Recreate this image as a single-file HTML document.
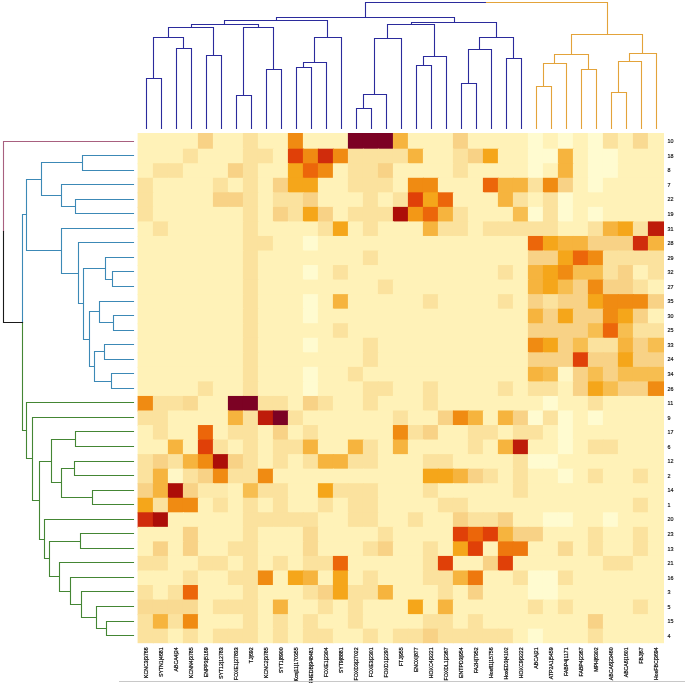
<!DOCTYPE html><html><head><meta charset="utf-8"><style>html,body{margin:0;padding:0;background:#fff;width:685px;height:683px;overflow:hidden}svg{display:block;will-change:transform}text{font-family:"Liberation Sans",sans-serif}</style></head><body>
<svg width="685" height="683" viewBox="0 0 685 683">
<g>
<rect x="137.60" y="133.00" width="16.30" height="16.70" fill="#fff2b8"/>
<rect x="152.90" y="133.00" width="16.00" height="16.70" fill="#fff2b8"/>
<rect x="167.90" y="133.00" width="16.00" height="16.70" fill="#fff2b8"/>
<rect x="182.90" y="133.00" width="16.00" height="16.70" fill="#fff2b8"/>
<rect x="197.90" y="133.00" width="16.00" height="16.70" fill="#f8d286"/>
<rect x="212.90" y="133.00" width="16.00" height="16.70" fill="#fff2b8"/>
<rect x="227.90" y="133.00" width="16.00" height="16.70" fill="#fff2b8"/>
<rect x="242.90" y="133.00" width="16.00" height="16.70" fill="#fbe29e"/>
<rect x="257.90" y="133.00" width="16.00" height="16.70" fill="#fff2b8"/>
<rect x="272.90" y="133.00" width="16.00" height="16.70" fill="#fff2b8"/>
<rect x="287.90" y="133.00" width="16.00" height="16.70" fill="#f08b12"/>
<rect x="302.90" y="133.00" width="16.00" height="16.70" fill="#fff2b8"/>
<rect x="317.90" y="133.00" width="16.00" height="16.70" fill="#fff2b8"/>
<rect x="332.90" y="133.00" width="16.00" height="16.70" fill="#fff2b8"/>
<rect x="347.90" y="133.00" width="16.00" height="16.70" fill="#7c0224"/>
<rect x="362.90" y="133.00" width="16.00" height="16.70" fill="#7c0224"/>
<rect x="377.90" y="133.00" width="16.00" height="16.70" fill="#7c0224"/>
<rect x="392.90" y="133.00" width="16.00" height="16.70" fill="#f6b43e"/>
<rect x="407.90" y="133.00" width="16.00" height="16.70" fill="#fff2b8"/>
<rect x="422.90" y="133.00" width="16.00" height="16.70" fill="#fff2b8"/>
<rect x="437.90" y="133.00" width="16.00" height="16.70" fill="#fff2b8"/>
<rect x="452.90" y="133.00" width="16.00" height="16.70" fill="#f8d286"/>
<rect x="467.90" y="133.00" width="16.00" height="16.70" fill="#fff2b8"/>
<rect x="482.90" y="133.00" width="16.00" height="16.70" fill="#fff2b8"/>
<rect x="497.90" y="133.00" width="16.00" height="16.70" fill="#fff2b8"/>
<rect x="512.90" y="133.00" width="16.00" height="16.70" fill="#fff2b8"/>
<rect x="527.90" y="133.00" width="16.00" height="16.70" fill="#fffbd0"/>
<rect x="542.90" y="133.00" width="16.00" height="16.70" fill="#fff2b8"/>
<rect x="557.90" y="133.00" width="16.00" height="16.70" fill="#fffbd0"/>
<rect x="572.90" y="133.00" width="16.00" height="16.70" fill="#fff2b8"/>
<rect x="587.90" y="133.00" width="16.00" height="16.70" fill="#fffbd0"/>
<rect x="602.90" y="133.00" width="16.00" height="16.70" fill="#fbe29e"/>
<rect x="617.90" y="133.00" width="16.00" height="16.70" fill="#fff2b8"/>
<rect x="632.90" y="133.00" width="16.00" height="16.70" fill="#f9da92"/>
<rect x="647.90" y="133.00" width="16.10" height="16.70" fill="#fff2b8"/>
<rect x="137.60" y="148.70" width="16.30" height="15.54" fill="#fff2b8"/>
<rect x="152.90" y="148.70" width="16.00" height="15.54" fill="#fff2b8"/>
<rect x="167.90" y="148.70" width="16.00" height="15.54" fill="#fff2b8"/>
<rect x="182.90" y="148.70" width="16.00" height="15.54" fill="#fbe29e"/>
<rect x="197.90" y="148.70" width="16.00" height="15.54" fill="#fff2b8"/>
<rect x="212.90" y="148.70" width="16.00" height="15.54" fill="#fff2b8"/>
<rect x="227.90" y="148.70" width="16.00" height="15.54" fill="#fff2b8"/>
<rect x="242.90" y="148.70" width="16.00" height="15.54" fill="#fbe29e"/>
<rect x="257.90" y="148.70" width="16.00" height="15.54" fill="#fbe29e"/>
<rect x="272.90" y="148.70" width="16.00" height="15.54" fill="#fff2b8"/>
<rect x="287.90" y="148.70" width="16.00" height="15.54" fill="#e04008"/>
<rect x="302.90" y="148.70" width="16.00" height="15.54" fill="#f08b12"/>
<rect x="317.90" y="148.70" width="16.00" height="15.54" fill="#d02c0c"/>
<rect x="332.90" y="148.70" width="16.00" height="15.54" fill="#f08b12"/>
<rect x="347.90" y="148.70" width="16.00" height="15.54" fill="#fbe29e"/>
<rect x="362.90" y="148.70" width="16.00" height="15.54" fill="#fbe29e"/>
<rect x="377.90" y="148.70" width="16.00" height="15.54" fill="#fbe29e"/>
<rect x="392.90" y="148.70" width="16.00" height="15.54" fill="#fbe29e"/>
<rect x="407.90" y="148.70" width="16.00" height="15.54" fill="#f6b43e"/>
<rect x="422.90" y="148.70" width="16.00" height="15.54" fill="#fff2b8"/>
<rect x="437.90" y="148.70" width="16.00" height="15.54" fill="#fff2b8"/>
<rect x="452.90" y="148.70" width="16.00" height="15.54" fill="#fbe29e"/>
<rect x="467.90" y="148.70" width="16.00" height="15.54" fill="#f8d286"/>
<rect x="482.90" y="148.70" width="16.00" height="15.54" fill="#f5a61a"/>
<rect x="497.90" y="148.70" width="16.00" height="15.54" fill="#fff2b8"/>
<rect x="512.90" y="148.70" width="16.00" height="15.54" fill="#fff2b8"/>
<rect x="527.90" y="148.70" width="16.00" height="15.54" fill="#fffbd0"/>
<rect x="542.90" y="148.70" width="16.00" height="15.54" fill="#fffbd0"/>
<rect x="557.90" y="148.70" width="16.00" height="15.54" fill="#f6b43e"/>
<rect x="572.90" y="148.70" width="16.00" height="15.54" fill="#fff2b8"/>
<rect x="587.90" y="148.70" width="16.00" height="15.54" fill="#fffbd0"/>
<rect x="602.90" y="148.70" width="16.00" height="15.54" fill="#fffbd0"/>
<rect x="617.90" y="148.70" width="16.00" height="15.54" fill="#fff2b8"/>
<rect x="632.90" y="148.70" width="16.00" height="15.54" fill="#fff2b8"/>
<rect x="647.90" y="148.70" width="16.10" height="15.54" fill="#fff2b8"/>
<rect x="137.60" y="163.24" width="16.30" height="15.54" fill="#fff2b8"/>
<rect x="152.90" y="163.24" width="16.00" height="15.54" fill="#fbe29e"/>
<rect x="167.90" y="163.24" width="16.00" height="15.54" fill="#fbe29e"/>
<rect x="182.90" y="163.24" width="16.00" height="15.54" fill="#fff2b8"/>
<rect x="197.90" y="163.24" width="16.00" height="15.54" fill="#fff2b8"/>
<rect x="212.90" y="163.24" width="16.00" height="15.54" fill="#fff2b8"/>
<rect x="227.90" y="163.24" width="16.00" height="15.54" fill="#f8d286"/>
<rect x="242.90" y="163.24" width="16.00" height="15.54" fill="#fbe29e"/>
<rect x="257.90" y="163.24" width="16.00" height="15.54" fill="#fff2b8"/>
<rect x="272.90" y="163.24" width="16.00" height="15.54" fill="#fff2b8"/>
<rect x="287.90" y="163.24" width="16.00" height="15.54" fill="#f5a61a"/>
<rect x="302.90" y="163.24" width="16.00" height="15.54" fill="#ec660a"/>
<rect x="317.90" y="163.24" width="16.00" height="15.54" fill="#f08b12"/>
<rect x="332.90" y="163.24" width="16.00" height="15.54" fill="#fff2b8"/>
<rect x="347.90" y="163.24" width="16.00" height="15.54" fill="#fbe29e"/>
<rect x="362.90" y="163.24" width="16.00" height="15.54" fill="#fbe29e"/>
<rect x="377.90" y="163.24" width="16.00" height="15.54" fill="#f8d286"/>
<rect x="392.90" y="163.24" width="16.00" height="15.54" fill="#fff2b8"/>
<rect x="407.90" y="163.24" width="16.00" height="15.54" fill="#fff2b8"/>
<rect x="422.90" y="163.24" width="16.00" height="15.54" fill="#fff2b8"/>
<rect x="437.90" y="163.24" width="16.00" height="15.54" fill="#fff2b8"/>
<rect x="452.90" y="163.24" width="16.00" height="15.54" fill="#fbe29e"/>
<rect x="467.90" y="163.24" width="16.00" height="15.54" fill="#fff2b8"/>
<rect x="482.90" y="163.24" width="16.00" height="15.54" fill="#fff2b8"/>
<rect x="497.90" y="163.24" width="16.00" height="15.54" fill="#fff2b8"/>
<rect x="512.90" y="163.24" width="16.00" height="15.54" fill="#fff2b8"/>
<rect x="527.90" y="163.24" width="16.00" height="15.54" fill="#fffbd0"/>
<rect x="542.90" y="163.24" width="16.00" height="15.54" fill="#fff2b8"/>
<rect x="557.90" y="163.24" width="16.00" height="15.54" fill="#f6b43e"/>
<rect x="572.90" y="163.24" width="16.00" height="15.54" fill="#fff2b8"/>
<rect x="587.90" y="163.24" width="16.00" height="15.54" fill="#fffbd0"/>
<rect x="602.90" y="163.24" width="16.00" height="15.54" fill="#fffbd0"/>
<rect x="617.90" y="163.24" width="16.00" height="15.54" fill="#fff2b8"/>
<rect x="632.90" y="163.24" width="16.00" height="15.54" fill="#fff2b8"/>
<rect x="647.90" y="163.24" width="16.10" height="15.54" fill="#fff2b8"/>
<rect x="137.60" y="177.79" width="16.30" height="15.54" fill="#fbe29e"/>
<rect x="152.90" y="177.79" width="16.00" height="15.54" fill="#fff2b8"/>
<rect x="167.90" y="177.79" width="16.00" height="15.54" fill="#fff2b8"/>
<rect x="182.90" y="177.79" width="16.00" height="15.54" fill="#fff2b8"/>
<rect x="197.90" y="177.79" width="16.00" height="15.54" fill="#fff2b8"/>
<rect x="212.90" y="177.79" width="16.00" height="15.54" fill="#fbe29e"/>
<rect x="227.90" y="177.79" width="16.00" height="15.54" fill="#fff2b8"/>
<rect x="242.90" y="177.79" width="16.00" height="15.54" fill="#fbe29e"/>
<rect x="257.90" y="177.79" width="16.00" height="15.54" fill="#fff2b8"/>
<rect x="272.90" y="177.79" width="16.00" height="15.54" fill="#f8d286"/>
<rect x="287.90" y="177.79" width="16.00" height="15.54" fill="#f5a61a"/>
<rect x="302.90" y="177.79" width="16.00" height="15.54" fill="#f5a61a"/>
<rect x="317.90" y="177.79" width="16.00" height="15.54" fill="#fff2b8"/>
<rect x="332.90" y="177.79" width="16.00" height="15.54" fill="#fff2b8"/>
<rect x="347.90" y="177.79" width="16.00" height="15.54" fill="#fbe29e"/>
<rect x="362.90" y="177.79" width="16.00" height="15.54" fill="#fbe29e"/>
<rect x="377.90" y="177.79" width="16.00" height="15.54" fill="#fbe29e"/>
<rect x="392.90" y="177.79" width="16.00" height="15.54" fill="#fff2b8"/>
<rect x="407.90" y="177.79" width="16.00" height="15.54" fill="#f08b12"/>
<rect x="422.90" y="177.79" width="16.00" height="15.54" fill="#f08b12"/>
<rect x="437.90" y="177.79" width="16.00" height="15.54" fill="#fff2b8"/>
<rect x="452.90" y="177.79" width="16.00" height="15.54" fill="#fff2b8"/>
<rect x="467.90" y="177.79" width="16.00" height="15.54" fill="#fff2b8"/>
<rect x="482.90" y="177.79" width="16.00" height="15.54" fill="#ec660a"/>
<rect x="497.90" y="177.79" width="16.00" height="15.54" fill="#f6b43e"/>
<rect x="512.90" y="177.79" width="16.00" height="15.54" fill="#f6b43e"/>
<rect x="527.90" y="177.79" width="16.00" height="15.54" fill="#fbe29e"/>
<rect x="542.90" y="177.79" width="16.00" height="15.54" fill="#f08b12"/>
<rect x="557.90" y="177.79" width="16.00" height="15.54" fill="#f8d286"/>
<rect x="572.90" y="177.79" width="16.00" height="15.54" fill="#fff2b8"/>
<rect x="587.90" y="177.79" width="16.00" height="15.54" fill="#fffbd0"/>
<rect x="602.90" y="177.79" width="16.00" height="15.54" fill="#fff2b8"/>
<rect x="617.90" y="177.79" width="16.00" height="15.54" fill="#fff2b8"/>
<rect x="632.90" y="177.79" width="16.00" height="15.54" fill="#fff2b8"/>
<rect x="647.90" y="177.79" width="16.10" height="15.54" fill="#fff2b8"/>
<rect x="137.60" y="192.33" width="16.30" height="15.54" fill="#fbe29e"/>
<rect x="152.90" y="192.33" width="16.00" height="15.54" fill="#fff2b8"/>
<rect x="167.90" y="192.33" width="16.00" height="15.54" fill="#fff2b8"/>
<rect x="182.90" y="192.33" width="16.00" height="15.54" fill="#fff2b8"/>
<rect x="197.90" y="192.33" width="16.00" height="15.54" fill="#fff2b8"/>
<rect x="212.90" y="192.33" width="16.00" height="15.54" fill="#f8d286"/>
<rect x="227.90" y="192.33" width="16.00" height="15.54" fill="#f8d286"/>
<rect x="242.90" y="192.33" width="16.00" height="15.54" fill="#fbe29e"/>
<rect x="257.90" y="192.33" width="16.00" height="15.54" fill="#fff2b8"/>
<rect x="272.90" y="192.33" width="16.00" height="15.54" fill="#fbe29e"/>
<rect x="287.90" y="192.33" width="16.00" height="15.54" fill="#fbe29e"/>
<rect x="302.90" y="192.33" width="16.00" height="15.54" fill="#f8d286"/>
<rect x="317.90" y="192.33" width="16.00" height="15.54" fill="#fff2b8"/>
<rect x="332.90" y="192.33" width="16.00" height="15.54" fill="#fff2b8"/>
<rect x="347.90" y="192.33" width="16.00" height="15.54" fill="#fff2b8"/>
<rect x="362.90" y="192.33" width="16.00" height="15.54" fill="#fbe29e"/>
<rect x="377.90" y="192.33" width="16.00" height="15.54" fill="#fff2b8"/>
<rect x="392.90" y="192.33" width="16.00" height="15.54" fill="#fbe29e"/>
<rect x="407.90" y="192.33" width="16.00" height="15.54" fill="#e04008"/>
<rect x="422.90" y="192.33" width="16.00" height="15.54" fill="#f5a61a"/>
<rect x="437.90" y="192.33" width="16.00" height="15.54" fill="#ec660a"/>
<rect x="452.90" y="192.33" width="16.00" height="15.54" fill="#fff2b8"/>
<rect x="467.90" y="192.33" width="16.00" height="15.54" fill="#fff2b8"/>
<rect x="482.90" y="192.33" width="16.00" height="15.54" fill="#fff2b8"/>
<rect x="497.90" y="192.33" width="16.00" height="15.54" fill="#f6b43e"/>
<rect x="512.90" y="192.33" width="16.00" height="15.54" fill="#fbe29e"/>
<rect x="527.90" y="192.33" width="16.00" height="15.54" fill="#fff2b8"/>
<rect x="542.90" y="192.33" width="16.00" height="15.54" fill="#fbe29e"/>
<rect x="557.90" y="192.33" width="16.00" height="15.54" fill="#fffbd0"/>
<rect x="572.90" y="192.33" width="16.00" height="15.54" fill="#fff2b8"/>
<rect x="587.90" y="192.33" width="16.00" height="15.54" fill="#fff2b8"/>
<rect x="602.90" y="192.33" width="16.00" height="15.54" fill="#fff2b8"/>
<rect x="617.90" y="192.33" width="16.00" height="15.54" fill="#fff2b8"/>
<rect x="632.90" y="192.33" width="16.00" height="15.54" fill="#fff2b8"/>
<rect x="647.90" y="192.33" width="16.10" height="15.54" fill="#fff2b8"/>
<rect x="137.60" y="206.88" width="16.30" height="15.54" fill="#fbe29e"/>
<rect x="152.90" y="206.88" width="16.00" height="15.54" fill="#fff2b8"/>
<rect x="167.90" y="206.88" width="16.00" height="15.54" fill="#fff2b8"/>
<rect x="182.90" y="206.88" width="16.00" height="15.54" fill="#fff2b8"/>
<rect x="197.90" y="206.88" width="16.00" height="15.54" fill="#fff2b8"/>
<rect x="212.90" y="206.88" width="16.00" height="15.54" fill="#fff2b8"/>
<rect x="227.90" y="206.88" width="16.00" height="15.54" fill="#fff2b8"/>
<rect x="242.90" y="206.88" width="16.00" height="15.54" fill="#fbe29e"/>
<rect x="257.90" y="206.88" width="16.00" height="15.54" fill="#fff2b8"/>
<rect x="272.90" y="206.88" width="16.00" height="15.54" fill="#f8d286"/>
<rect x="287.90" y="206.88" width="16.00" height="15.54" fill="#fbe29e"/>
<rect x="302.90" y="206.88" width="16.00" height="15.54" fill="#f5a61a"/>
<rect x="317.90" y="206.88" width="16.00" height="15.54" fill="#f8d286"/>
<rect x="332.90" y="206.88" width="16.00" height="15.54" fill="#fff2b8"/>
<rect x="347.90" y="206.88" width="16.00" height="15.54" fill="#fbe29e"/>
<rect x="362.90" y="206.88" width="16.00" height="15.54" fill="#fbe29e"/>
<rect x="377.90" y="206.88" width="16.00" height="15.54" fill="#fbe29e"/>
<rect x="392.90" y="206.88" width="16.00" height="15.54" fill="#ac0e08"/>
<rect x="407.90" y="206.88" width="16.00" height="15.54" fill="#f39816"/>
<rect x="422.90" y="206.88" width="16.00" height="15.54" fill="#ec660a"/>
<rect x="437.90" y="206.88" width="16.00" height="15.54" fill="#f6b43e"/>
<rect x="452.90" y="206.88" width="16.00" height="15.54" fill="#fbe29e"/>
<rect x="467.90" y="206.88" width="16.00" height="15.54" fill="#fff2b8"/>
<rect x="482.90" y="206.88" width="16.00" height="15.54" fill="#fff2b8"/>
<rect x="497.90" y="206.88" width="16.00" height="15.54" fill="#fff2b8"/>
<rect x="512.90" y="206.88" width="16.00" height="15.54" fill="#f7be50"/>
<rect x="527.90" y="206.88" width="16.00" height="15.54" fill="#fffbd0"/>
<rect x="542.90" y="206.88" width="16.00" height="15.54" fill="#fbe29e"/>
<rect x="557.90" y="206.88" width="16.00" height="15.54" fill="#fffbd0"/>
<rect x="572.90" y="206.88" width="16.00" height="15.54" fill="#fff2b8"/>
<rect x="587.90" y="206.88" width="16.00" height="15.54" fill="#fffbd0"/>
<rect x="602.90" y="206.88" width="16.00" height="15.54" fill="#fff2b8"/>
<rect x="617.90" y="206.88" width="16.00" height="15.54" fill="#fff2b8"/>
<rect x="632.90" y="206.88" width="16.00" height="15.54" fill="#fff2b8"/>
<rect x="647.90" y="206.88" width="16.10" height="15.54" fill="#fff2b8"/>
<rect x="137.60" y="221.42" width="16.30" height="15.54" fill="#fff2b8"/>
<rect x="152.90" y="221.42" width="16.00" height="15.54" fill="#fbe29e"/>
<rect x="167.90" y="221.42" width="16.00" height="15.54" fill="#fff2b8"/>
<rect x="182.90" y="221.42" width="16.00" height="15.54" fill="#fff2b8"/>
<rect x="197.90" y="221.42" width="16.00" height="15.54" fill="#fff2b8"/>
<rect x="212.90" y="221.42" width="16.00" height="15.54" fill="#fff2b8"/>
<rect x="227.90" y="221.42" width="16.00" height="15.54" fill="#fff2b8"/>
<rect x="242.90" y="221.42" width="16.00" height="15.54" fill="#fbe29e"/>
<rect x="257.90" y="221.42" width="16.00" height="15.54" fill="#fff2b8"/>
<rect x="272.90" y="221.42" width="16.00" height="15.54" fill="#fff2b8"/>
<rect x="287.90" y="221.42" width="16.00" height="15.54" fill="#fff2b8"/>
<rect x="302.90" y="221.42" width="16.00" height="15.54" fill="#fff2b8"/>
<rect x="317.90" y="221.42" width="16.00" height="15.54" fill="#fbe29e"/>
<rect x="332.90" y="221.42" width="16.00" height="15.54" fill="#f5a61a"/>
<rect x="347.90" y="221.42" width="16.00" height="15.54" fill="#fff2b8"/>
<rect x="362.90" y="221.42" width="16.00" height="15.54" fill="#fbe29e"/>
<rect x="377.90" y="221.42" width="16.00" height="15.54" fill="#fff2b8"/>
<rect x="392.90" y="221.42" width="16.00" height="15.54" fill="#fff2b8"/>
<rect x="407.90" y="221.42" width="16.00" height="15.54" fill="#fff2b8"/>
<rect x="422.90" y="221.42" width="16.00" height="15.54" fill="#f6b43e"/>
<rect x="437.90" y="221.42" width="16.00" height="15.54" fill="#fbe29e"/>
<rect x="452.90" y="221.42" width="16.00" height="15.54" fill="#fbe29e"/>
<rect x="467.90" y="221.42" width="16.00" height="15.54" fill="#fff2b8"/>
<rect x="482.90" y="221.42" width="16.00" height="15.54" fill="#fbe29e"/>
<rect x="497.90" y="221.42" width="16.00" height="15.54" fill="#fbe29e"/>
<rect x="512.90" y="221.42" width="16.00" height="15.54" fill="#fbe29e"/>
<rect x="527.90" y="221.42" width="16.00" height="15.54" fill="#fbe29e"/>
<rect x="542.90" y="221.42" width="16.00" height="15.54" fill="#fbe29e"/>
<rect x="557.90" y="221.42" width="16.00" height="15.54" fill="#fff2b8"/>
<rect x="572.90" y="221.42" width="16.00" height="15.54" fill="#fff2b8"/>
<rect x="587.90" y="221.42" width="16.00" height="15.54" fill="#fbe29e"/>
<rect x="602.90" y="221.42" width="16.00" height="15.54" fill="#f6b43e"/>
<rect x="617.90" y="221.42" width="16.00" height="15.54" fill="#f5a61a"/>
<rect x="632.90" y="221.42" width="16.00" height="15.54" fill="#fbe29e"/>
<rect x="647.90" y="221.42" width="16.10" height="15.54" fill="#be1c0a"/>
<rect x="137.60" y="235.96" width="16.30" height="15.54" fill="#fff2b8"/>
<rect x="152.90" y="235.96" width="16.00" height="15.54" fill="#fff2b8"/>
<rect x="167.90" y="235.96" width="16.00" height="15.54" fill="#fff2b8"/>
<rect x="182.90" y="235.96" width="16.00" height="15.54" fill="#fff2b8"/>
<rect x="197.90" y="235.96" width="16.00" height="15.54" fill="#fff2b8"/>
<rect x="212.90" y="235.96" width="16.00" height="15.54" fill="#fff2b8"/>
<rect x="227.90" y="235.96" width="16.00" height="15.54" fill="#fff2b8"/>
<rect x="242.90" y="235.96" width="16.00" height="15.54" fill="#fbe29e"/>
<rect x="257.90" y="235.96" width="16.00" height="15.54" fill="#fbe29e"/>
<rect x="272.90" y="235.96" width="16.00" height="15.54" fill="#fff2b8"/>
<rect x="287.90" y="235.96" width="16.00" height="15.54" fill="#fff2b8"/>
<rect x="302.90" y="235.96" width="16.00" height="15.54" fill="#fffbd0"/>
<rect x="317.90" y="235.96" width="16.00" height="15.54" fill="#fff2b8"/>
<rect x="332.90" y="235.96" width="16.00" height="15.54" fill="#fff2b8"/>
<rect x="347.90" y="235.96" width="16.00" height="15.54" fill="#fff2b8"/>
<rect x="362.90" y="235.96" width="16.00" height="15.54" fill="#fff2b8"/>
<rect x="377.90" y="235.96" width="16.00" height="15.54" fill="#fff2b8"/>
<rect x="392.90" y="235.96" width="16.00" height="15.54" fill="#fff2b8"/>
<rect x="407.90" y="235.96" width="16.00" height="15.54" fill="#fff2b8"/>
<rect x="422.90" y="235.96" width="16.00" height="15.54" fill="#fff2b8"/>
<rect x="437.90" y="235.96" width="16.00" height="15.54" fill="#fff2b8"/>
<rect x="452.90" y="235.96" width="16.00" height="15.54" fill="#fff2b8"/>
<rect x="467.90" y="235.96" width="16.00" height="15.54" fill="#fff2b8"/>
<rect x="482.90" y="235.96" width="16.00" height="15.54" fill="#fff2b8"/>
<rect x="497.90" y="235.96" width="16.00" height="15.54" fill="#fff2b8"/>
<rect x="512.90" y="235.96" width="16.00" height="15.54" fill="#fff2b8"/>
<rect x="527.90" y="235.96" width="16.00" height="15.54" fill="#ec660a"/>
<rect x="542.90" y="235.96" width="16.00" height="15.54" fill="#f5a61a"/>
<rect x="557.90" y="235.96" width="16.00" height="15.54" fill="#f6b43e"/>
<rect x="572.90" y="235.96" width="16.00" height="15.54" fill="#f6b43e"/>
<rect x="587.90" y="235.96" width="16.00" height="15.54" fill="#f8d286"/>
<rect x="602.90" y="235.96" width="16.00" height="15.54" fill="#f8d286"/>
<rect x="617.90" y="235.96" width="16.00" height="15.54" fill="#f8d286"/>
<rect x="632.90" y="235.96" width="16.00" height="15.54" fill="#d02c0c"/>
<rect x="647.90" y="235.96" width="16.10" height="15.54" fill="#f6b43e"/>
<rect x="137.60" y="250.51" width="16.30" height="15.54" fill="#fff2b8"/>
<rect x="152.90" y="250.51" width="16.00" height="15.54" fill="#fff2b8"/>
<rect x="167.90" y="250.51" width="16.00" height="15.54" fill="#fff2b8"/>
<rect x="182.90" y="250.51" width="16.00" height="15.54" fill="#fff2b8"/>
<rect x="197.90" y="250.51" width="16.00" height="15.54" fill="#fff2b8"/>
<rect x="212.90" y="250.51" width="16.00" height="15.54" fill="#fff2b8"/>
<rect x="227.90" y="250.51" width="16.00" height="15.54" fill="#fff2b8"/>
<rect x="242.90" y="250.51" width="16.00" height="15.54" fill="#fbe29e"/>
<rect x="257.90" y="250.51" width="16.00" height="15.54" fill="#fff2b8"/>
<rect x="272.90" y="250.51" width="16.00" height="15.54" fill="#fff2b8"/>
<rect x="287.90" y="250.51" width="16.00" height="15.54" fill="#fff2b8"/>
<rect x="302.90" y="250.51" width="16.00" height="15.54" fill="#fff2b8"/>
<rect x="317.90" y="250.51" width="16.00" height="15.54" fill="#fff2b8"/>
<rect x="332.90" y="250.51" width="16.00" height="15.54" fill="#fff2b8"/>
<rect x="347.90" y="250.51" width="16.00" height="15.54" fill="#fff2b8"/>
<rect x="362.90" y="250.51" width="16.00" height="15.54" fill="#fbe29e"/>
<rect x="377.90" y="250.51" width="16.00" height="15.54" fill="#fff2b8"/>
<rect x="392.90" y="250.51" width="16.00" height="15.54" fill="#fff2b8"/>
<rect x="407.90" y="250.51" width="16.00" height="15.54" fill="#fff2b8"/>
<rect x="422.90" y="250.51" width="16.00" height="15.54" fill="#fff2b8"/>
<rect x="437.90" y="250.51" width="16.00" height="15.54" fill="#fff2b8"/>
<rect x="452.90" y="250.51" width="16.00" height="15.54" fill="#fff2b8"/>
<rect x="467.90" y="250.51" width="16.00" height="15.54" fill="#fff2b8"/>
<rect x="482.90" y="250.51" width="16.00" height="15.54" fill="#fff2b8"/>
<rect x="497.90" y="250.51" width="16.00" height="15.54" fill="#fff2b8"/>
<rect x="512.90" y="250.51" width="16.00" height="15.54" fill="#fff2b8"/>
<rect x="527.90" y="250.51" width="16.00" height="15.54" fill="#f8d286"/>
<rect x="542.90" y="250.51" width="16.00" height="15.54" fill="#f8d286"/>
<rect x="557.90" y="250.51" width="16.00" height="15.54" fill="#f5a61a"/>
<rect x="572.90" y="250.51" width="16.00" height="15.54" fill="#ec660a"/>
<rect x="587.90" y="250.51" width="16.00" height="15.54" fill="#f08b12"/>
<rect x="602.90" y="250.51" width="16.00" height="15.54" fill="#fbe29e"/>
<rect x="617.90" y="250.51" width="16.00" height="15.54" fill="#fbe29e"/>
<rect x="632.90" y="250.51" width="16.00" height="15.54" fill="#fbe29e"/>
<rect x="647.90" y="250.51" width="16.10" height="15.54" fill="#fbe29e"/>
<rect x="137.60" y="265.05" width="16.30" height="15.54" fill="#fff2b8"/>
<rect x="152.90" y="265.05" width="16.00" height="15.54" fill="#fff2b8"/>
<rect x="167.90" y="265.05" width="16.00" height="15.54" fill="#fff2b8"/>
<rect x="182.90" y="265.05" width="16.00" height="15.54" fill="#fff2b8"/>
<rect x="197.90" y="265.05" width="16.00" height="15.54" fill="#fff2b8"/>
<rect x="212.90" y="265.05" width="16.00" height="15.54" fill="#fff2b8"/>
<rect x="227.90" y="265.05" width="16.00" height="15.54" fill="#fff2b8"/>
<rect x="242.90" y="265.05" width="16.00" height="15.54" fill="#fbe29e"/>
<rect x="257.90" y="265.05" width="16.00" height="15.54" fill="#fff2b8"/>
<rect x="272.90" y="265.05" width="16.00" height="15.54" fill="#fff2b8"/>
<rect x="287.90" y="265.05" width="16.00" height="15.54" fill="#fff2b8"/>
<rect x="302.90" y="265.05" width="16.00" height="15.54" fill="#fffbd0"/>
<rect x="317.90" y="265.05" width="16.00" height="15.54" fill="#fff2b8"/>
<rect x="332.90" y="265.05" width="16.00" height="15.54" fill="#fbe29e"/>
<rect x="347.90" y="265.05" width="16.00" height="15.54" fill="#fff2b8"/>
<rect x="362.90" y="265.05" width="16.00" height="15.54" fill="#fff2b8"/>
<rect x="377.90" y="265.05" width="16.00" height="15.54" fill="#fff2b8"/>
<rect x="392.90" y="265.05" width="16.00" height="15.54" fill="#fff2b8"/>
<rect x="407.90" y="265.05" width="16.00" height="15.54" fill="#fff2b8"/>
<rect x="422.90" y="265.05" width="16.00" height="15.54" fill="#fff2b8"/>
<rect x="437.90" y="265.05" width="16.00" height="15.54" fill="#fff2b8"/>
<rect x="452.90" y="265.05" width="16.00" height="15.54" fill="#fff2b8"/>
<rect x="467.90" y="265.05" width="16.00" height="15.54" fill="#fff2b8"/>
<rect x="482.90" y="265.05" width="16.00" height="15.54" fill="#fff2b8"/>
<rect x="497.90" y="265.05" width="16.00" height="15.54" fill="#fbe29e"/>
<rect x="512.90" y="265.05" width="16.00" height="15.54" fill="#fff2b8"/>
<rect x="527.90" y="265.05" width="16.00" height="15.54" fill="#f6b43e"/>
<rect x="542.90" y="265.05" width="16.00" height="15.54" fill="#f5a61a"/>
<rect x="557.90" y="265.05" width="16.00" height="15.54" fill="#f08b12"/>
<rect x="572.90" y="265.05" width="16.00" height="15.54" fill="#f7be50"/>
<rect x="587.90" y="265.05" width="16.00" height="15.54" fill="#f7be50"/>
<rect x="602.90" y="265.05" width="16.00" height="15.54" fill="#fbe29e"/>
<rect x="617.90" y="265.05" width="16.00" height="15.54" fill="#f8d286"/>
<rect x="632.90" y="265.05" width="16.00" height="15.54" fill="#fff2b8"/>
<rect x="647.90" y="265.05" width="16.10" height="15.54" fill="#fbe29e"/>
<rect x="137.60" y="279.60" width="16.30" height="15.54" fill="#fff2b8"/>
<rect x="152.90" y="279.60" width="16.00" height="15.54" fill="#fff2b8"/>
<rect x="167.90" y="279.60" width="16.00" height="15.54" fill="#fff2b8"/>
<rect x="182.90" y="279.60" width="16.00" height="15.54" fill="#fff2b8"/>
<rect x="197.90" y="279.60" width="16.00" height="15.54" fill="#fff2b8"/>
<rect x="212.90" y="279.60" width="16.00" height="15.54" fill="#fff2b8"/>
<rect x="227.90" y="279.60" width="16.00" height="15.54" fill="#fff2b8"/>
<rect x="242.90" y="279.60" width="16.00" height="15.54" fill="#fbe29e"/>
<rect x="257.90" y="279.60" width="16.00" height="15.54" fill="#fff2b8"/>
<rect x="272.90" y="279.60" width="16.00" height="15.54" fill="#fff2b8"/>
<rect x="287.90" y="279.60" width="16.00" height="15.54" fill="#fff2b8"/>
<rect x="302.90" y="279.60" width="16.00" height="15.54" fill="#fff2b8"/>
<rect x="317.90" y="279.60" width="16.00" height="15.54" fill="#fff2b8"/>
<rect x="332.90" y="279.60" width="16.00" height="15.54" fill="#fff2b8"/>
<rect x="347.90" y="279.60" width="16.00" height="15.54" fill="#fff2b8"/>
<rect x="362.90" y="279.60" width="16.00" height="15.54" fill="#fff2b8"/>
<rect x="377.90" y="279.60" width="16.00" height="15.54" fill="#fbe29e"/>
<rect x="392.90" y="279.60" width="16.00" height="15.54" fill="#fff2b8"/>
<rect x="407.90" y="279.60" width="16.00" height="15.54" fill="#fff2b8"/>
<rect x="422.90" y="279.60" width="16.00" height="15.54" fill="#fff2b8"/>
<rect x="437.90" y="279.60" width="16.00" height="15.54" fill="#fff2b8"/>
<rect x="452.90" y="279.60" width="16.00" height="15.54" fill="#fff2b8"/>
<rect x="467.90" y="279.60" width="16.00" height="15.54" fill="#fff2b8"/>
<rect x="482.90" y="279.60" width="16.00" height="15.54" fill="#fff2b8"/>
<rect x="497.90" y="279.60" width="16.00" height="15.54" fill="#fff2b8"/>
<rect x="512.90" y="279.60" width="16.00" height="15.54" fill="#fff2b8"/>
<rect x="527.90" y="279.60" width="16.00" height="15.54" fill="#f6b43e"/>
<rect x="542.90" y="279.60" width="16.00" height="15.54" fill="#f5a61a"/>
<rect x="557.90" y="279.60" width="16.00" height="15.54" fill="#f7be50"/>
<rect x="572.90" y="279.60" width="16.00" height="15.54" fill="#f8d286"/>
<rect x="587.90" y="279.60" width="16.00" height="15.54" fill="#f08b12"/>
<rect x="602.90" y="279.60" width="16.00" height="15.54" fill="#f8d286"/>
<rect x="617.90" y="279.60" width="16.00" height="15.54" fill="#f8d286"/>
<rect x="632.90" y="279.60" width="16.00" height="15.54" fill="#fbe29e"/>
<rect x="647.90" y="279.60" width="16.10" height="15.54" fill="#fff2b8"/>
<rect x="137.60" y="294.14" width="16.30" height="15.54" fill="#fff2b8"/>
<rect x="152.90" y="294.14" width="16.00" height="15.54" fill="#fff2b8"/>
<rect x="167.90" y="294.14" width="16.00" height="15.54" fill="#fff2b8"/>
<rect x="182.90" y="294.14" width="16.00" height="15.54" fill="#fff2b8"/>
<rect x="197.90" y="294.14" width="16.00" height="15.54" fill="#fff2b8"/>
<rect x="212.90" y="294.14" width="16.00" height="15.54" fill="#fff2b8"/>
<rect x="227.90" y="294.14" width="16.00" height="15.54" fill="#fff2b8"/>
<rect x="242.90" y="294.14" width="16.00" height="15.54" fill="#fbe29e"/>
<rect x="257.90" y="294.14" width="16.00" height="15.54" fill="#fff2b8"/>
<rect x="272.90" y="294.14" width="16.00" height="15.54" fill="#fff2b8"/>
<rect x="287.90" y="294.14" width="16.00" height="15.54" fill="#fff2b8"/>
<rect x="302.90" y="294.14" width="16.00" height="15.54" fill="#fffbd0"/>
<rect x="317.90" y="294.14" width="16.00" height="15.54" fill="#fff2b8"/>
<rect x="332.90" y="294.14" width="16.00" height="15.54" fill="#f6b43e"/>
<rect x="347.90" y="294.14" width="16.00" height="15.54" fill="#fff2b8"/>
<rect x="362.90" y="294.14" width="16.00" height="15.54" fill="#fff2b8"/>
<rect x="377.90" y="294.14" width="16.00" height="15.54" fill="#fff2b8"/>
<rect x="392.90" y="294.14" width="16.00" height="15.54" fill="#fff2b8"/>
<rect x="407.90" y="294.14" width="16.00" height="15.54" fill="#fff2b8"/>
<rect x="422.90" y="294.14" width="16.00" height="15.54" fill="#fbe29e"/>
<rect x="437.90" y="294.14" width="16.00" height="15.54" fill="#fff2b8"/>
<rect x="452.90" y="294.14" width="16.00" height="15.54" fill="#fff2b8"/>
<rect x="467.90" y="294.14" width="16.00" height="15.54" fill="#fff2b8"/>
<rect x="482.90" y="294.14" width="16.00" height="15.54" fill="#fff2b8"/>
<rect x="497.90" y="294.14" width="16.00" height="15.54" fill="#fbe29e"/>
<rect x="512.90" y="294.14" width="16.00" height="15.54" fill="#fff2b8"/>
<rect x="527.90" y="294.14" width="16.00" height="15.54" fill="#f8d286"/>
<rect x="542.90" y="294.14" width="16.00" height="15.54" fill="#fbe29e"/>
<rect x="557.90" y="294.14" width="16.00" height="15.54" fill="#f8d286"/>
<rect x="572.90" y="294.14" width="16.00" height="15.54" fill="#f8d286"/>
<rect x="587.90" y="294.14" width="16.00" height="15.54" fill="#f5a61a"/>
<rect x="602.90" y="294.14" width="16.00" height="15.54" fill="#f08b12"/>
<rect x="617.90" y="294.14" width="16.00" height="15.54" fill="#f08b12"/>
<rect x="632.90" y="294.14" width="16.00" height="15.54" fill="#f08b12"/>
<rect x="647.90" y="294.14" width="16.10" height="15.54" fill="#f8d286"/>
<rect x="137.60" y="308.68" width="16.30" height="15.54" fill="#fff2b8"/>
<rect x="152.90" y="308.68" width="16.00" height="15.54" fill="#fff2b8"/>
<rect x="167.90" y="308.68" width="16.00" height="15.54" fill="#fff2b8"/>
<rect x="182.90" y="308.68" width="16.00" height="15.54" fill="#fff2b8"/>
<rect x="197.90" y="308.68" width="16.00" height="15.54" fill="#fff2b8"/>
<rect x="212.90" y="308.68" width="16.00" height="15.54" fill="#fff2b8"/>
<rect x="227.90" y="308.68" width="16.00" height="15.54" fill="#fff2b8"/>
<rect x="242.90" y="308.68" width="16.00" height="15.54" fill="#fbe29e"/>
<rect x="257.90" y="308.68" width="16.00" height="15.54" fill="#fff2b8"/>
<rect x="272.90" y="308.68" width="16.00" height="15.54" fill="#fff2b8"/>
<rect x="287.90" y="308.68" width="16.00" height="15.54" fill="#fff2b8"/>
<rect x="302.90" y="308.68" width="16.00" height="15.54" fill="#fffbd0"/>
<rect x="317.90" y="308.68" width="16.00" height="15.54" fill="#fff2b8"/>
<rect x="332.90" y="308.68" width="16.00" height="15.54" fill="#fff2b8"/>
<rect x="347.90" y="308.68" width="16.00" height="15.54" fill="#fff2b8"/>
<rect x="362.90" y="308.68" width="16.00" height="15.54" fill="#fff2b8"/>
<rect x="377.90" y="308.68" width="16.00" height="15.54" fill="#fff2b8"/>
<rect x="392.90" y="308.68" width="16.00" height="15.54" fill="#fff2b8"/>
<rect x="407.90" y="308.68" width="16.00" height="15.54" fill="#fff2b8"/>
<rect x="422.90" y="308.68" width="16.00" height="15.54" fill="#fff2b8"/>
<rect x="437.90" y="308.68" width="16.00" height="15.54" fill="#fff2b8"/>
<rect x="452.90" y="308.68" width="16.00" height="15.54" fill="#fff2b8"/>
<rect x="467.90" y="308.68" width="16.00" height="15.54" fill="#fff2b8"/>
<rect x="482.90" y="308.68" width="16.00" height="15.54" fill="#fff2b8"/>
<rect x="497.90" y="308.68" width="16.00" height="15.54" fill="#fff2b8"/>
<rect x="512.90" y="308.68" width="16.00" height="15.54" fill="#fff2b8"/>
<rect x="527.90" y="308.68" width="16.00" height="15.54" fill="#f6b43e"/>
<rect x="542.90" y="308.68" width="16.00" height="15.54" fill="#f8d286"/>
<rect x="557.90" y="308.68" width="16.00" height="15.54" fill="#f5a61a"/>
<rect x="572.90" y="308.68" width="16.00" height="15.54" fill="#f8d286"/>
<rect x="587.90" y="308.68" width="16.00" height="15.54" fill="#f8d286"/>
<rect x="602.90" y="308.68" width="16.00" height="15.54" fill="#f08b12"/>
<rect x="617.90" y="308.68" width="16.00" height="15.54" fill="#f5a61a"/>
<rect x="632.90" y="308.68" width="16.00" height="15.54" fill="#f8d286"/>
<rect x="647.90" y="308.68" width="16.10" height="15.54" fill="#fff2b8"/>
<rect x="137.60" y="323.23" width="16.30" height="15.54" fill="#fff2b8"/>
<rect x="152.90" y="323.23" width="16.00" height="15.54" fill="#fff2b8"/>
<rect x="167.90" y="323.23" width="16.00" height="15.54" fill="#fff2b8"/>
<rect x="182.90" y="323.23" width="16.00" height="15.54" fill="#fff2b8"/>
<rect x="197.90" y="323.23" width="16.00" height="15.54" fill="#fff2b8"/>
<rect x="212.90" y="323.23" width="16.00" height="15.54" fill="#fff2b8"/>
<rect x="227.90" y="323.23" width="16.00" height="15.54" fill="#fff2b8"/>
<rect x="242.90" y="323.23" width="16.00" height="15.54" fill="#fbe29e"/>
<rect x="257.90" y="323.23" width="16.00" height="15.54" fill="#fff2b8"/>
<rect x="272.90" y="323.23" width="16.00" height="15.54" fill="#fff2b8"/>
<rect x="287.90" y="323.23" width="16.00" height="15.54" fill="#fff2b8"/>
<rect x="302.90" y="323.23" width="16.00" height="15.54" fill="#fff2b8"/>
<rect x="317.90" y="323.23" width="16.00" height="15.54" fill="#fff2b8"/>
<rect x="332.90" y="323.23" width="16.00" height="15.54" fill="#fbe29e"/>
<rect x="347.90" y="323.23" width="16.00" height="15.54" fill="#fff2b8"/>
<rect x="362.90" y="323.23" width="16.00" height="15.54" fill="#fff2b8"/>
<rect x="377.90" y="323.23" width="16.00" height="15.54" fill="#fff2b8"/>
<rect x="392.90" y="323.23" width="16.00" height="15.54" fill="#fff2b8"/>
<rect x="407.90" y="323.23" width="16.00" height="15.54" fill="#fff2b8"/>
<rect x="422.90" y="323.23" width="16.00" height="15.54" fill="#fff2b8"/>
<rect x="437.90" y="323.23" width="16.00" height="15.54" fill="#fff2b8"/>
<rect x="452.90" y="323.23" width="16.00" height="15.54" fill="#fff2b8"/>
<rect x="467.90" y="323.23" width="16.00" height="15.54" fill="#fff2b8"/>
<rect x="482.90" y="323.23" width="16.00" height="15.54" fill="#fff2b8"/>
<rect x="497.90" y="323.23" width="16.00" height="15.54" fill="#fff2b8"/>
<rect x="512.90" y="323.23" width="16.00" height="15.54" fill="#fff2b8"/>
<rect x="527.90" y="323.23" width="16.00" height="15.54" fill="#f8d286"/>
<rect x="542.90" y="323.23" width="16.00" height="15.54" fill="#f8d286"/>
<rect x="557.90" y="323.23" width="16.00" height="15.54" fill="#f8d286"/>
<rect x="572.90" y="323.23" width="16.00" height="15.54" fill="#f8d286"/>
<rect x="587.90" y="323.23" width="16.00" height="15.54" fill="#f7be50"/>
<rect x="602.90" y="323.23" width="16.00" height="15.54" fill="#ec660a"/>
<rect x="617.90" y="323.23" width="16.00" height="15.54" fill="#f7be50"/>
<rect x="632.90" y="323.23" width="16.00" height="15.54" fill="#fbe29e"/>
<rect x="647.90" y="323.23" width="16.10" height="15.54" fill="#fbe29e"/>
<rect x="137.60" y="337.77" width="16.30" height="15.54" fill="#fff2b8"/>
<rect x="152.90" y="337.77" width="16.00" height="15.54" fill="#fff2b8"/>
<rect x="167.90" y="337.77" width="16.00" height="15.54" fill="#fff2b8"/>
<rect x="182.90" y="337.77" width="16.00" height="15.54" fill="#fff2b8"/>
<rect x="197.90" y="337.77" width="16.00" height="15.54" fill="#fff2b8"/>
<rect x="212.90" y="337.77" width="16.00" height="15.54" fill="#fff2b8"/>
<rect x="227.90" y="337.77" width="16.00" height="15.54" fill="#fff2b8"/>
<rect x="242.90" y="337.77" width="16.00" height="15.54" fill="#fbe29e"/>
<rect x="257.90" y="337.77" width="16.00" height="15.54" fill="#fff2b8"/>
<rect x="272.90" y="337.77" width="16.00" height="15.54" fill="#fff2b8"/>
<rect x="287.90" y="337.77" width="16.00" height="15.54" fill="#fff2b8"/>
<rect x="302.90" y="337.77" width="16.00" height="15.54" fill="#fffbd0"/>
<rect x="317.90" y="337.77" width="16.00" height="15.54" fill="#fff2b8"/>
<rect x="332.90" y="337.77" width="16.00" height="15.54" fill="#fff2b8"/>
<rect x="347.90" y="337.77" width="16.00" height="15.54" fill="#fff2b8"/>
<rect x="362.90" y="337.77" width="16.00" height="15.54" fill="#fbe29e"/>
<rect x="377.90" y="337.77" width="16.00" height="15.54" fill="#fff2b8"/>
<rect x="392.90" y="337.77" width="16.00" height="15.54" fill="#fff2b8"/>
<rect x="407.90" y="337.77" width="16.00" height="15.54" fill="#fff2b8"/>
<rect x="422.90" y="337.77" width="16.00" height="15.54" fill="#fff2b8"/>
<rect x="437.90" y="337.77" width="16.00" height="15.54" fill="#fff2b8"/>
<rect x="452.90" y="337.77" width="16.00" height="15.54" fill="#fff2b8"/>
<rect x="467.90" y="337.77" width="16.00" height="15.54" fill="#fff2b8"/>
<rect x="482.90" y="337.77" width="16.00" height="15.54" fill="#fff2b8"/>
<rect x="497.90" y="337.77" width="16.00" height="15.54" fill="#fff2b8"/>
<rect x="512.90" y="337.77" width="16.00" height="15.54" fill="#fff2b8"/>
<rect x="527.90" y="337.77" width="16.00" height="15.54" fill="#f08b12"/>
<rect x="542.90" y="337.77" width="16.00" height="15.54" fill="#f5a61a"/>
<rect x="557.90" y="337.77" width="16.00" height="15.54" fill="#f8d286"/>
<rect x="572.90" y="337.77" width="16.00" height="15.54" fill="#f7be50"/>
<rect x="587.90" y="337.77" width="16.00" height="15.54" fill="#fbe29e"/>
<rect x="602.90" y="337.77" width="16.00" height="15.54" fill="#fbe29e"/>
<rect x="617.90" y="337.77" width="16.00" height="15.54" fill="#f6b43e"/>
<rect x="632.90" y="337.77" width="16.00" height="15.54" fill="#f8d286"/>
<rect x="647.90" y="337.77" width="16.10" height="15.54" fill="#f7be50"/>
<rect x="137.60" y="352.32" width="16.30" height="15.54" fill="#fff2b8"/>
<rect x="152.90" y="352.32" width="16.00" height="15.54" fill="#fff2b8"/>
<rect x="167.90" y="352.32" width="16.00" height="15.54" fill="#fff2b8"/>
<rect x="182.90" y="352.32" width="16.00" height="15.54" fill="#fff2b8"/>
<rect x="197.90" y="352.32" width="16.00" height="15.54" fill="#fff2b8"/>
<rect x="212.90" y="352.32" width="16.00" height="15.54" fill="#fff2b8"/>
<rect x="227.90" y="352.32" width="16.00" height="15.54" fill="#fff2b8"/>
<rect x="242.90" y="352.32" width="16.00" height="15.54" fill="#fbe29e"/>
<rect x="257.90" y="352.32" width="16.00" height="15.54" fill="#fff2b8"/>
<rect x="272.90" y="352.32" width="16.00" height="15.54" fill="#fff2b8"/>
<rect x="287.90" y="352.32" width="16.00" height="15.54" fill="#fff2b8"/>
<rect x="302.90" y="352.32" width="16.00" height="15.54" fill="#fff2b8"/>
<rect x="317.90" y="352.32" width="16.00" height="15.54" fill="#fff2b8"/>
<rect x="332.90" y="352.32" width="16.00" height="15.54" fill="#fff2b8"/>
<rect x="347.90" y="352.32" width="16.00" height="15.54" fill="#fff2b8"/>
<rect x="362.90" y="352.32" width="16.00" height="15.54" fill="#fbe29e"/>
<rect x="377.90" y="352.32" width="16.00" height="15.54" fill="#fff2b8"/>
<rect x="392.90" y="352.32" width="16.00" height="15.54" fill="#fff2b8"/>
<rect x="407.90" y="352.32" width="16.00" height="15.54" fill="#fff2b8"/>
<rect x="422.90" y="352.32" width="16.00" height="15.54" fill="#fff2b8"/>
<rect x="437.90" y="352.32" width="16.00" height="15.54" fill="#fff2b8"/>
<rect x="452.90" y="352.32" width="16.00" height="15.54" fill="#fff2b8"/>
<rect x="467.90" y="352.32" width="16.00" height="15.54" fill="#fff2b8"/>
<rect x="482.90" y="352.32" width="16.00" height="15.54" fill="#fff2b8"/>
<rect x="497.90" y="352.32" width="16.00" height="15.54" fill="#fff2b8"/>
<rect x="512.90" y="352.32" width="16.00" height="15.54" fill="#fff2b8"/>
<rect x="527.90" y="352.32" width="16.00" height="15.54" fill="#f8d286"/>
<rect x="542.90" y="352.32" width="16.00" height="15.54" fill="#f8d286"/>
<rect x="557.90" y="352.32" width="16.00" height="15.54" fill="#f8d286"/>
<rect x="572.90" y="352.32" width="16.00" height="15.54" fill="#e04008"/>
<rect x="587.90" y="352.32" width="16.00" height="15.54" fill="#f8d286"/>
<rect x="602.90" y="352.32" width="16.00" height="15.54" fill="#f8d286"/>
<rect x="617.90" y="352.32" width="16.00" height="15.54" fill="#f5a61a"/>
<rect x="632.90" y="352.32" width="16.00" height="15.54" fill="#f8d286"/>
<rect x="647.90" y="352.32" width="16.10" height="15.54" fill="#f8d286"/>
<rect x="137.60" y="366.86" width="16.30" height="15.54" fill="#fff2b8"/>
<rect x="152.90" y="366.86" width="16.00" height="15.54" fill="#fff2b8"/>
<rect x="167.90" y="366.86" width="16.00" height="15.54" fill="#fff2b8"/>
<rect x="182.90" y="366.86" width="16.00" height="15.54" fill="#fff2b8"/>
<rect x="197.90" y="366.86" width="16.00" height="15.54" fill="#fff2b8"/>
<rect x="212.90" y="366.86" width="16.00" height="15.54" fill="#fff2b8"/>
<rect x="227.90" y="366.86" width="16.00" height="15.54" fill="#fff2b8"/>
<rect x="242.90" y="366.86" width="16.00" height="15.54" fill="#fbe29e"/>
<rect x="257.90" y="366.86" width="16.00" height="15.54" fill="#fff2b8"/>
<rect x="272.90" y="366.86" width="16.00" height="15.54" fill="#fff2b8"/>
<rect x="287.90" y="366.86" width="16.00" height="15.54" fill="#fff2b8"/>
<rect x="302.90" y="366.86" width="16.00" height="15.54" fill="#fffbd0"/>
<rect x="317.90" y="366.86" width="16.00" height="15.54" fill="#fff2b8"/>
<rect x="332.90" y="366.86" width="16.00" height="15.54" fill="#fff2b8"/>
<rect x="347.90" y="366.86" width="16.00" height="15.54" fill="#fbe29e"/>
<rect x="362.90" y="366.86" width="16.00" height="15.54" fill="#fff2b8"/>
<rect x="377.90" y="366.86" width="16.00" height="15.54" fill="#fff2b8"/>
<rect x="392.90" y="366.86" width="16.00" height="15.54" fill="#fff2b8"/>
<rect x="407.90" y="366.86" width="16.00" height="15.54" fill="#fff2b8"/>
<rect x="422.90" y="366.86" width="16.00" height="15.54" fill="#fff2b8"/>
<rect x="437.90" y="366.86" width="16.00" height="15.54" fill="#fff2b8"/>
<rect x="452.90" y="366.86" width="16.00" height="15.54" fill="#fff2b8"/>
<rect x="467.90" y="366.86" width="16.00" height="15.54" fill="#fff2b8"/>
<rect x="482.90" y="366.86" width="16.00" height="15.54" fill="#fff2b8"/>
<rect x="497.90" y="366.86" width="16.00" height="15.54" fill="#fff2b8"/>
<rect x="512.90" y="366.86" width="16.00" height="15.54" fill="#fff2b8"/>
<rect x="527.90" y="366.86" width="16.00" height="15.54" fill="#f6b43e"/>
<rect x="542.90" y="366.86" width="16.00" height="15.54" fill="#f7be50"/>
<rect x="557.90" y="366.86" width="16.00" height="15.54" fill="#fff7c6"/>
<rect x="572.90" y="366.86" width="16.00" height="15.54" fill="#f8d286"/>
<rect x="587.90" y="366.86" width="16.00" height="15.54" fill="#f7be50"/>
<rect x="602.90" y="366.86" width="16.00" height="15.54" fill="#f8d286"/>
<rect x="617.90" y="366.86" width="16.00" height="15.54" fill="#f7be50"/>
<rect x="632.90" y="366.86" width="16.00" height="15.54" fill="#f7be50"/>
<rect x="647.90" y="366.86" width="16.10" height="15.54" fill="#f7be50"/>
<rect x="137.60" y="381.40" width="16.30" height="15.54" fill="#fff2b8"/>
<rect x="152.90" y="381.40" width="16.00" height="15.54" fill="#fff2b8"/>
<rect x="167.90" y="381.40" width="16.00" height="15.54" fill="#fff2b8"/>
<rect x="182.90" y="381.40" width="16.00" height="15.54" fill="#fff2b8"/>
<rect x="197.90" y="381.40" width="16.00" height="15.54" fill="#fbe29e"/>
<rect x="212.90" y="381.40" width="16.00" height="15.54" fill="#fff2b8"/>
<rect x="227.90" y="381.40" width="16.00" height="15.54" fill="#fff2b8"/>
<rect x="242.90" y="381.40" width="16.00" height="15.54" fill="#fbe29e"/>
<rect x="257.90" y="381.40" width="16.00" height="15.54" fill="#fff2b8"/>
<rect x="272.90" y="381.40" width="16.00" height="15.54" fill="#fff2b8"/>
<rect x="287.90" y="381.40" width="16.00" height="15.54" fill="#fff2b8"/>
<rect x="302.90" y="381.40" width="16.00" height="15.54" fill="#fffbd0"/>
<rect x="317.90" y="381.40" width="16.00" height="15.54" fill="#fff2b8"/>
<rect x="332.90" y="381.40" width="16.00" height="15.54" fill="#fff2b8"/>
<rect x="347.90" y="381.40" width="16.00" height="15.54" fill="#fff2b8"/>
<rect x="362.90" y="381.40" width="16.00" height="15.54" fill="#fbe29e"/>
<rect x="377.90" y="381.40" width="16.00" height="15.54" fill="#fbe29e"/>
<rect x="392.90" y="381.40" width="16.00" height="15.54" fill="#fff2b8"/>
<rect x="407.90" y="381.40" width="16.00" height="15.54" fill="#fff2b8"/>
<rect x="422.90" y="381.40" width="16.00" height="15.54" fill="#fbe29e"/>
<rect x="437.90" y="381.40" width="16.00" height="15.54" fill="#fff2b8"/>
<rect x="452.90" y="381.40" width="16.00" height="15.54" fill="#fff2b8"/>
<rect x="467.90" y="381.40" width="16.00" height="15.54" fill="#fff2b8"/>
<rect x="482.90" y="381.40" width="16.00" height="15.54" fill="#fff2b8"/>
<rect x="497.90" y="381.40" width="16.00" height="15.54" fill="#fbe29e"/>
<rect x="512.90" y="381.40" width="16.00" height="15.54" fill="#fff2b8"/>
<rect x="527.90" y="381.40" width="16.00" height="15.54" fill="#fbe29e"/>
<rect x="542.90" y="381.40" width="16.00" height="15.54" fill="#fbe29e"/>
<rect x="557.90" y="381.40" width="16.00" height="15.54" fill="#fff2b8"/>
<rect x="572.90" y="381.40" width="16.00" height="15.54" fill="#f8d286"/>
<rect x="587.90" y="381.40" width="16.00" height="15.54" fill="#f5a61a"/>
<rect x="602.90" y="381.40" width="16.00" height="15.54" fill="#f7be50"/>
<rect x="617.90" y="381.40" width="16.00" height="15.54" fill="#f8d286"/>
<rect x="632.90" y="381.40" width="16.00" height="15.54" fill="#f8d286"/>
<rect x="647.90" y="381.40" width="16.10" height="15.54" fill="#f08b12"/>
<rect x="137.60" y="395.95" width="16.30" height="15.54" fill="#f08b12"/>
<rect x="152.90" y="395.95" width="16.00" height="15.54" fill="#fbe29e"/>
<rect x="167.90" y="395.95" width="16.00" height="15.54" fill="#fbe29e"/>
<rect x="182.90" y="395.95" width="16.00" height="15.54" fill="#f9da92"/>
<rect x="197.90" y="395.95" width="16.00" height="15.54" fill="#fff2b8"/>
<rect x="212.90" y="395.95" width="16.00" height="15.54" fill="#fff2b8"/>
<rect x="227.90" y="395.95" width="16.00" height="15.54" fill="#7c0224"/>
<rect x="242.90" y="395.95" width="16.00" height="15.54" fill="#7c0224"/>
<rect x="257.90" y="395.95" width="16.00" height="15.54" fill="#fbe29e"/>
<rect x="272.90" y="395.95" width="16.00" height="15.54" fill="#fbe29e"/>
<rect x="287.90" y="395.95" width="16.00" height="15.54" fill="#fff2b8"/>
<rect x="302.90" y="395.95" width="16.00" height="15.54" fill="#f8d286"/>
<rect x="317.90" y="395.95" width="16.00" height="15.54" fill="#fbe29e"/>
<rect x="332.90" y="395.95" width="16.00" height="15.54" fill="#fff2b8"/>
<rect x="347.90" y="395.95" width="16.00" height="15.54" fill="#fff2b8"/>
<rect x="362.90" y="395.95" width="16.00" height="15.54" fill="#fbe29e"/>
<rect x="377.90" y="395.95" width="16.00" height="15.54" fill="#fff2b8"/>
<rect x="392.90" y="395.95" width="16.00" height="15.54" fill="#fff2b8"/>
<rect x="407.90" y="395.95" width="16.00" height="15.54" fill="#fff2b8"/>
<rect x="422.90" y="395.95" width="16.00" height="15.54" fill="#fbe29e"/>
<rect x="437.90" y="395.95" width="16.00" height="15.54" fill="#fff2b8"/>
<rect x="452.90" y="395.95" width="16.00" height="15.54" fill="#fff2b8"/>
<rect x="467.90" y="395.95" width="16.00" height="15.54" fill="#fff2b8"/>
<rect x="482.90" y="395.95" width="16.00" height="15.54" fill="#fff2b8"/>
<rect x="497.90" y="395.95" width="16.00" height="15.54" fill="#fff2b8"/>
<rect x="512.90" y="395.95" width="16.00" height="15.54" fill="#fff2b8"/>
<rect x="527.90" y="395.95" width="16.00" height="15.54" fill="#fff2b8"/>
<rect x="542.90" y="395.95" width="16.00" height="15.54" fill="#fffbd0"/>
<rect x="557.90" y="395.95" width="16.00" height="15.54" fill="#fff2b8"/>
<rect x="572.90" y="395.95" width="16.00" height="15.54" fill="#fff2b8"/>
<rect x="587.90" y="395.95" width="16.00" height="15.54" fill="#fbe29e"/>
<rect x="602.90" y="395.95" width="16.00" height="15.54" fill="#fff2b8"/>
<rect x="617.90" y="395.95" width="16.00" height="15.54" fill="#fff2b8"/>
<rect x="632.90" y="395.95" width="16.00" height="15.54" fill="#fff2b8"/>
<rect x="647.90" y="395.95" width="16.10" height="15.54" fill="#fff2b8"/>
<rect x="137.60" y="410.49" width="16.30" height="15.54" fill="#fbe29e"/>
<rect x="152.90" y="410.49" width="16.00" height="15.54" fill="#fbe29e"/>
<rect x="167.90" y="410.49" width="16.00" height="15.54" fill="#fff2b8"/>
<rect x="182.90" y="410.49" width="16.00" height="15.54" fill="#fff2b8"/>
<rect x="197.90" y="410.49" width="16.00" height="15.54" fill="#fff2b8"/>
<rect x="212.90" y="410.49" width="16.00" height="15.54" fill="#fff2b8"/>
<rect x="227.90" y="410.49" width="16.00" height="15.54" fill="#f6b43e"/>
<rect x="242.90" y="410.49" width="16.00" height="15.54" fill="#fbe29e"/>
<rect x="257.90" y="410.49" width="16.00" height="15.54" fill="#be1c0a"/>
<rect x="272.90" y="410.49" width="16.00" height="15.54" fill="#7c0224"/>
<rect x="287.90" y="410.49" width="16.00" height="15.54" fill="#fbe29e"/>
<rect x="302.90" y="410.49" width="16.00" height="15.54" fill="#fff2b8"/>
<rect x="317.90" y="410.49" width="16.00" height="15.54" fill="#fff2b8"/>
<rect x="332.90" y="410.49" width="16.00" height="15.54" fill="#fff2b8"/>
<rect x="347.90" y="410.49" width="16.00" height="15.54" fill="#fff2b8"/>
<rect x="362.90" y="410.49" width="16.00" height="15.54" fill="#fff2b8"/>
<rect x="377.90" y="410.49" width="16.00" height="15.54" fill="#fff2b8"/>
<rect x="392.90" y="410.49" width="16.00" height="15.54" fill="#fbe29e"/>
<rect x="407.90" y="410.49" width="16.00" height="15.54" fill="#fff2b8"/>
<rect x="422.90" y="410.49" width="16.00" height="15.54" fill="#fff2b8"/>
<rect x="437.90" y="410.49" width="16.00" height="15.54" fill="#f8d286"/>
<rect x="452.90" y="410.49" width="16.00" height="15.54" fill="#f08b12"/>
<rect x="467.90" y="410.49" width="16.00" height="15.54" fill="#f6b43e"/>
<rect x="482.90" y="410.49" width="16.00" height="15.54" fill="#fff2b8"/>
<rect x="497.90" y="410.49" width="16.00" height="15.54" fill="#f6b43e"/>
<rect x="512.90" y="410.49" width="16.00" height="15.54" fill="#f8d286"/>
<rect x="527.90" y="410.49" width="16.00" height="15.54" fill="#fffbd0"/>
<rect x="542.90" y="410.49" width="16.00" height="15.54" fill="#fbe29e"/>
<rect x="557.90" y="410.49" width="16.00" height="15.54" fill="#fffbd0"/>
<rect x="572.90" y="410.49" width="16.00" height="15.54" fill="#fff2b8"/>
<rect x="587.90" y="410.49" width="16.00" height="15.54" fill="#fffbd0"/>
<rect x="602.90" y="410.49" width="16.00" height="15.54" fill="#fff2b8"/>
<rect x="617.90" y="410.49" width="16.00" height="15.54" fill="#fff2b8"/>
<rect x="632.90" y="410.49" width="16.00" height="15.54" fill="#fff2b8"/>
<rect x="647.90" y="410.49" width="16.10" height="15.54" fill="#fff2b8"/>
<rect x="137.60" y="425.04" width="16.30" height="15.54" fill="#fff2b8"/>
<rect x="152.90" y="425.04" width="16.00" height="15.54" fill="#fbe29e"/>
<rect x="167.90" y="425.04" width="16.00" height="15.54" fill="#fff2b8"/>
<rect x="182.90" y="425.04" width="16.00" height="15.54" fill="#fff2b8"/>
<rect x="197.90" y="425.04" width="16.00" height="15.54" fill="#ec660a"/>
<rect x="212.90" y="425.04" width="16.00" height="15.54" fill="#fff2b8"/>
<rect x="227.90" y="425.04" width="16.00" height="15.54" fill="#fbe29e"/>
<rect x="242.90" y="425.04" width="16.00" height="15.54" fill="#fbe29e"/>
<rect x="257.90" y="425.04" width="16.00" height="15.54" fill="#fff2b8"/>
<rect x="272.90" y="425.04" width="16.00" height="15.54" fill="#f8d286"/>
<rect x="287.90" y="425.04" width="16.00" height="15.54" fill="#fff2b8"/>
<rect x="302.90" y="425.04" width="16.00" height="15.54" fill="#fbe29e"/>
<rect x="317.90" y="425.04" width="16.00" height="15.54" fill="#fff2b8"/>
<rect x="332.90" y="425.04" width="16.00" height="15.54" fill="#fff2b8"/>
<rect x="347.90" y="425.04" width="16.00" height="15.54" fill="#fff2b8"/>
<rect x="362.90" y="425.04" width="16.00" height="15.54" fill="#fff2b8"/>
<rect x="377.90" y="425.04" width="16.00" height="15.54" fill="#fff2b8"/>
<rect x="392.90" y="425.04" width="16.00" height="15.54" fill="#f08b12"/>
<rect x="407.90" y="425.04" width="16.00" height="15.54" fill="#fbe29e"/>
<rect x="422.90" y="425.04" width="16.00" height="15.54" fill="#f8d286"/>
<rect x="437.90" y="425.04" width="16.00" height="15.54" fill="#fff2b8"/>
<rect x="452.90" y="425.04" width="16.00" height="15.54" fill="#fff2b8"/>
<rect x="467.90" y="425.04" width="16.00" height="15.54" fill="#fbe29e"/>
<rect x="482.90" y="425.04" width="16.00" height="15.54" fill="#fbe29e"/>
<rect x="497.90" y="425.04" width="16.00" height="15.54" fill="#fff2b8"/>
<rect x="512.90" y="425.04" width="16.00" height="15.54" fill="#fbe29e"/>
<rect x="527.90" y="425.04" width="16.00" height="15.54" fill="#fbe29e"/>
<rect x="542.90" y="425.04" width="16.00" height="15.54" fill="#fff2b8"/>
<rect x="557.90" y="425.04" width="16.00" height="15.54" fill="#fffbd0"/>
<rect x="572.90" y="425.04" width="16.00" height="15.54" fill="#fff2b8"/>
<rect x="587.90" y="425.04" width="16.00" height="15.54" fill="#fff2b8"/>
<rect x="602.90" y="425.04" width="16.00" height="15.54" fill="#fff2b8"/>
<rect x="617.90" y="425.04" width="16.00" height="15.54" fill="#fff2b8"/>
<rect x="632.90" y="425.04" width="16.00" height="15.54" fill="#fff2b8"/>
<rect x="647.90" y="425.04" width="16.10" height="15.54" fill="#fff2b8"/>
<rect x="137.60" y="439.58" width="16.30" height="15.54" fill="#fff2b8"/>
<rect x="152.90" y="439.58" width="16.00" height="15.54" fill="#fff2b8"/>
<rect x="167.90" y="439.58" width="16.00" height="15.54" fill="#f6b43e"/>
<rect x="182.90" y="439.58" width="16.00" height="15.54" fill="#fff2b8"/>
<rect x="197.90" y="439.58" width="16.00" height="15.54" fill="#e04008"/>
<rect x="212.90" y="439.58" width="16.00" height="15.54" fill="#fbe29e"/>
<rect x="227.90" y="439.58" width="16.00" height="15.54" fill="#fff2b8"/>
<rect x="242.90" y="439.58" width="16.00" height="15.54" fill="#fbe29e"/>
<rect x="257.90" y="439.58" width="16.00" height="15.54" fill="#fff2b8"/>
<rect x="272.90" y="439.58" width="16.00" height="15.54" fill="#fbe29e"/>
<rect x="287.90" y="439.58" width="16.00" height="15.54" fill="#fbe29e"/>
<rect x="302.90" y="439.58" width="16.00" height="15.54" fill="#f6b43e"/>
<rect x="317.90" y="439.58" width="16.00" height="15.54" fill="#fff2b8"/>
<rect x="332.90" y="439.58" width="16.00" height="15.54" fill="#fff2b8"/>
<rect x="347.90" y="439.58" width="16.00" height="15.54" fill="#f6b43e"/>
<rect x="362.90" y="439.58" width="16.00" height="15.54" fill="#fbe29e"/>
<rect x="377.90" y="439.58" width="16.00" height="15.54" fill="#fff2b8"/>
<rect x="392.90" y="439.58" width="16.00" height="15.54" fill="#f6b43e"/>
<rect x="407.90" y="439.58" width="16.00" height="15.54" fill="#fff2b8"/>
<rect x="422.90" y="439.58" width="16.00" height="15.54" fill="#fff2b8"/>
<rect x="437.90" y="439.58" width="16.00" height="15.54" fill="#fff2b8"/>
<rect x="452.90" y="439.58" width="16.00" height="15.54" fill="#fff2b8"/>
<rect x="467.90" y="439.58" width="16.00" height="15.54" fill="#fbe29e"/>
<rect x="482.90" y="439.58" width="16.00" height="15.54" fill="#fff2b8"/>
<rect x="497.90" y="439.58" width="16.00" height="15.54" fill="#f6b43e"/>
<rect x="512.90" y="439.58" width="16.00" height="15.54" fill="#be1c0a"/>
<rect x="527.90" y="439.58" width="16.00" height="15.54" fill="#fff2b8"/>
<rect x="542.90" y="439.58" width="16.00" height="15.54" fill="#fff2b8"/>
<rect x="557.90" y="439.58" width="16.00" height="15.54" fill="#fffbd0"/>
<rect x="572.90" y="439.58" width="16.00" height="15.54" fill="#fff2b8"/>
<rect x="587.90" y="439.58" width="16.00" height="15.54" fill="#fbe29e"/>
<rect x="602.90" y="439.58" width="16.00" height="15.54" fill="#fbe29e"/>
<rect x="617.90" y="439.58" width="16.00" height="15.54" fill="#fff2b8"/>
<rect x="632.90" y="439.58" width="16.00" height="15.54" fill="#fff2b8"/>
<rect x="647.90" y="439.58" width="16.10" height="15.54" fill="#fff2b8"/>
<rect x="137.60" y="454.12" width="16.30" height="15.54" fill="#fbe29e"/>
<rect x="152.90" y="454.12" width="16.00" height="15.54" fill="#f8d286"/>
<rect x="167.90" y="454.12" width="16.00" height="15.54" fill="#fbe29e"/>
<rect x="182.90" y="454.12" width="16.00" height="15.54" fill="#f6b43e"/>
<rect x="197.90" y="454.12" width="16.00" height="15.54" fill="#f08b12"/>
<rect x="212.90" y="454.12" width="16.00" height="15.54" fill="#ac0e08"/>
<rect x="227.90" y="454.12" width="16.00" height="15.54" fill="#f8d286"/>
<rect x="242.90" y="454.12" width="16.00" height="15.54" fill="#fbe29e"/>
<rect x="257.90" y="454.12" width="16.00" height="15.54" fill="#fff2b8"/>
<rect x="272.90" y="454.12" width="16.00" height="15.54" fill="#fbe29e"/>
<rect x="287.90" y="454.12" width="16.00" height="15.54" fill="#fff2b8"/>
<rect x="302.90" y="454.12" width="16.00" height="15.54" fill="#fbe29e"/>
<rect x="317.90" y="454.12" width="16.00" height="15.54" fill="#f6b43e"/>
<rect x="332.90" y="454.12" width="16.00" height="15.54" fill="#f6b43e"/>
<rect x="347.90" y="454.12" width="16.00" height="15.54" fill="#fbe29e"/>
<rect x="362.90" y="454.12" width="16.00" height="15.54" fill="#fbe29e"/>
<rect x="377.90" y="454.12" width="16.00" height="15.54" fill="#fff2b8"/>
<rect x="392.90" y="454.12" width="16.00" height="15.54" fill="#fff2b8"/>
<rect x="407.90" y="454.12" width="16.00" height="15.54" fill="#fff2b8"/>
<rect x="422.90" y="454.12" width="16.00" height="15.54" fill="#fbe29e"/>
<rect x="437.90" y="454.12" width="16.00" height="15.54" fill="#fbe29e"/>
<rect x="452.90" y="454.12" width="16.00" height="15.54" fill="#fff2b8"/>
<rect x="467.90" y="454.12" width="16.00" height="15.54" fill="#fff2b8"/>
<rect x="482.90" y="454.12" width="16.00" height="15.54" fill="#fff2b8"/>
<rect x="497.90" y="454.12" width="16.00" height="15.54" fill="#fff2b8"/>
<rect x="512.90" y="454.12" width="16.00" height="15.54" fill="#fbe29e"/>
<rect x="527.90" y="454.12" width="16.00" height="15.54" fill="#fffbd0"/>
<rect x="542.90" y="454.12" width="16.00" height="15.54" fill="#fffbd0"/>
<rect x="557.90" y="454.12" width="16.00" height="15.54" fill="#fff2b8"/>
<rect x="572.90" y="454.12" width="16.00" height="15.54" fill="#fff2b8"/>
<rect x="587.90" y="454.12" width="16.00" height="15.54" fill="#fff2b8"/>
<rect x="602.90" y="454.12" width="16.00" height="15.54" fill="#fff2b8"/>
<rect x="617.90" y="454.12" width="16.00" height="15.54" fill="#fff2b8"/>
<rect x="632.90" y="454.12" width="16.00" height="15.54" fill="#fff2b8"/>
<rect x="647.90" y="454.12" width="16.10" height="15.54" fill="#fff2b8"/>
<rect x="137.60" y="468.67" width="16.30" height="15.54" fill="#fbe29e"/>
<rect x="152.90" y="468.67" width="16.00" height="15.54" fill="#f6b43e"/>
<rect x="167.90" y="468.67" width="16.00" height="15.54" fill="#fff7c6"/>
<rect x="182.90" y="468.67" width="16.00" height="15.54" fill="#fbe29e"/>
<rect x="197.90" y="468.67" width="16.00" height="15.54" fill="#f8d286"/>
<rect x="212.90" y="468.67" width="16.00" height="15.54" fill="#f08b12"/>
<rect x="227.90" y="468.67" width="16.00" height="15.54" fill="#fbe29e"/>
<rect x="242.90" y="468.67" width="16.00" height="15.54" fill="#fbe29e"/>
<rect x="257.90" y="468.67" width="16.00" height="15.54" fill="#f08b12"/>
<rect x="272.90" y="468.67" width="16.00" height="15.54" fill="#fff2b8"/>
<rect x="287.90" y="468.67" width="16.00" height="15.54" fill="#fff2b8"/>
<rect x="302.90" y="468.67" width="16.00" height="15.54" fill="#fff2b8"/>
<rect x="317.90" y="468.67" width="16.00" height="15.54" fill="#fff2b8"/>
<rect x="332.90" y="468.67" width="16.00" height="15.54" fill="#fff2b8"/>
<rect x="347.90" y="468.67" width="16.00" height="15.54" fill="#fff2b8"/>
<rect x="362.90" y="468.67" width="16.00" height="15.54" fill="#fff2b8"/>
<rect x="377.90" y="468.67" width="16.00" height="15.54" fill="#fff2b8"/>
<rect x="392.90" y="468.67" width="16.00" height="15.54" fill="#fff2b8"/>
<rect x="407.90" y="468.67" width="16.00" height="15.54" fill="#fff2b8"/>
<rect x="422.90" y="468.67" width="16.00" height="15.54" fill="#f5a61a"/>
<rect x="437.90" y="468.67" width="16.00" height="15.54" fill="#f5a61a"/>
<rect x="452.90" y="468.67" width="16.00" height="15.54" fill="#f6b43e"/>
<rect x="467.90" y="468.67" width="16.00" height="15.54" fill="#f8d286"/>
<rect x="482.90" y="468.67" width="16.00" height="15.54" fill="#fbe29e"/>
<rect x="497.90" y="468.67" width="16.00" height="15.54" fill="#fff2b8"/>
<rect x="512.90" y="468.67" width="16.00" height="15.54" fill="#fbe29e"/>
<rect x="527.90" y="468.67" width="16.00" height="15.54" fill="#fff2b8"/>
<rect x="542.90" y="468.67" width="16.00" height="15.54" fill="#fff2b8"/>
<rect x="557.90" y="468.67" width="16.00" height="15.54" fill="#fffbd0"/>
<rect x="572.90" y="468.67" width="16.00" height="15.54" fill="#fff2b8"/>
<rect x="587.90" y="468.67" width="16.00" height="15.54" fill="#fbe29e"/>
<rect x="602.90" y="468.67" width="16.00" height="15.54" fill="#fff2b8"/>
<rect x="617.90" y="468.67" width="16.00" height="15.54" fill="#fff2b8"/>
<rect x="632.90" y="468.67" width="16.00" height="15.54" fill="#fbe29e"/>
<rect x="647.90" y="468.67" width="16.10" height="15.54" fill="#fff2b8"/>
<rect x="137.60" y="483.21" width="16.30" height="15.54" fill="#f8d286"/>
<rect x="152.90" y="483.21" width="16.00" height="15.54" fill="#f6b43e"/>
<rect x="167.90" y="483.21" width="16.00" height="15.54" fill="#ac0e08"/>
<rect x="182.90" y="483.21" width="16.00" height="15.54" fill="#f8d286"/>
<rect x="197.90" y="483.21" width="16.00" height="15.54" fill="#fdeaab"/>
<rect x="212.90" y="483.21" width="16.00" height="15.54" fill="#fdeaab"/>
<rect x="227.90" y="483.21" width="16.00" height="15.54" fill="#fff2b8"/>
<rect x="242.90" y="483.21" width="16.00" height="15.54" fill="#f7be50"/>
<rect x="257.90" y="483.21" width="16.00" height="15.54" fill="#fbe29e"/>
<rect x="272.90" y="483.21" width="16.00" height="15.54" fill="#fbe29e"/>
<rect x="287.90" y="483.21" width="16.00" height="15.54" fill="#fff2b8"/>
<rect x="302.90" y="483.21" width="16.00" height="15.54" fill="#fff2b8"/>
<rect x="317.90" y="483.21" width="16.00" height="15.54" fill="#f5a61a"/>
<rect x="332.90" y="483.21" width="16.00" height="15.54" fill="#fbe29e"/>
<rect x="347.90" y="483.21" width="16.00" height="15.54" fill="#fbe29e"/>
<rect x="362.90" y="483.21" width="16.00" height="15.54" fill="#fbe29e"/>
<rect x="377.90" y="483.21" width="16.00" height="15.54" fill="#fff2b8"/>
<rect x="392.90" y="483.21" width="16.00" height="15.54" fill="#fff2b8"/>
<rect x="407.90" y="483.21" width="16.00" height="15.54" fill="#fff2b8"/>
<rect x="422.90" y="483.21" width="16.00" height="15.54" fill="#fbe29e"/>
<rect x="437.90" y="483.21" width="16.00" height="15.54" fill="#fff2b8"/>
<rect x="452.90" y="483.21" width="16.00" height="15.54" fill="#fff2b8"/>
<rect x="467.90" y="483.21" width="16.00" height="15.54" fill="#fff2b8"/>
<rect x="482.90" y="483.21" width="16.00" height="15.54" fill="#fff2b8"/>
<rect x="497.90" y="483.21" width="16.00" height="15.54" fill="#fff2b8"/>
<rect x="512.90" y="483.21" width="16.00" height="15.54" fill="#fbe29e"/>
<rect x="527.90" y="483.21" width="16.00" height="15.54" fill="#fff2b8"/>
<rect x="542.90" y="483.21" width="16.00" height="15.54" fill="#fff2b8"/>
<rect x="557.90" y="483.21" width="16.00" height="15.54" fill="#fff2b8"/>
<rect x="572.90" y="483.21" width="16.00" height="15.54" fill="#fff2b8"/>
<rect x="587.90" y="483.21" width="16.00" height="15.54" fill="#fff2b8"/>
<rect x="602.90" y="483.21" width="16.00" height="15.54" fill="#fff2b8"/>
<rect x="617.90" y="483.21" width="16.00" height="15.54" fill="#fff2b8"/>
<rect x="632.90" y="483.21" width="16.00" height="15.54" fill="#fff2b8"/>
<rect x="647.90" y="483.21" width="16.10" height="15.54" fill="#fff2b8"/>
<rect x="137.60" y="497.76" width="16.30" height="15.54" fill="#f5a61a"/>
<rect x="152.90" y="497.76" width="16.00" height="15.54" fill="#fbe29e"/>
<rect x="167.90" y="497.76" width="16.00" height="15.54" fill="#f08b12"/>
<rect x="182.90" y="497.76" width="16.00" height="15.54" fill="#f08b12"/>
<rect x="197.90" y="497.76" width="16.00" height="15.54" fill="#fff2b8"/>
<rect x="212.90" y="497.76" width="16.00" height="15.54" fill="#fbe29e"/>
<rect x="227.90" y="497.76" width="16.00" height="15.54" fill="#fff2b8"/>
<rect x="242.90" y="497.76" width="16.00" height="15.54" fill="#fbe29e"/>
<rect x="257.90" y="497.76" width="16.00" height="15.54" fill="#fff2b8"/>
<rect x="272.90" y="497.76" width="16.00" height="15.54" fill="#fbe29e"/>
<rect x="287.90" y="497.76" width="16.00" height="15.54" fill="#fff2b8"/>
<rect x="302.90" y="497.76" width="16.00" height="15.54" fill="#fff2b8"/>
<rect x="317.90" y="497.76" width="16.00" height="15.54" fill="#fbe29e"/>
<rect x="332.90" y="497.76" width="16.00" height="15.54" fill="#fff2b8"/>
<rect x="347.90" y="497.76" width="16.00" height="15.54" fill="#fbe29e"/>
<rect x="362.90" y="497.76" width="16.00" height="15.54" fill="#fbe29e"/>
<rect x="377.90" y="497.76" width="16.00" height="15.54" fill="#fff2b8"/>
<rect x="392.90" y="497.76" width="16.00" height="15.54" fill="#fff2b8"/>
<rect x="407.90" y="497.76" width="16.00" height="15.54" fill="#fff2b8"/>
<rect x="422.90" y="497.76" width="16.00" height="15.54" fill="#fff2b8"/>
<rect x="437.90" y="497.76" width="16.00" height="15.54" fill="#fbe29e"/>
<rect x="452.90" y="497.76" width="16.00" height="15.54" fill="#fbe29e"/>
<rect x="467.90" y="497.76" width="16.00" height="15.54" fill="#fff2b8"/>
<rect x="482.90" y="497.76" width="16.00" height="15.54" fill="#fff2b8"/>
<rect x="497.90" y="497.76" width="16.00" height="15.54" fill="#fff2b8"/>
<rect x="512.90" y="497.76" width="16.00" height="15.54" fill="#fff2b8"/>
<rect x="527.90" y="497.76" width="16.00" height="15.54" fill="#fff2b8"/>
<rect x="542.90" y="497.76" width="16.00" height="15.54" fill="#fff2b8"/>
<rect x="557.90" y="497.76" width="16.00" height="15.54" fill="#fff2b8"/>
<rect x="572.90" y="497.76" width="16.00" height="15.54" fill="#fff2b8"/>
<rect x="587.90" y="497.76" width="16.00" height="15.54" fill="#fff2b8"/>
<rect x="602.90" y="497.76" width="16.00" height="15.54" fill="#fff2b8"/>
<rect x="617.90" y="497.76" width="16.00" height="15.54" fill="#fff2b8"/>
<rect x="632.90" y="497.76" width="16.00" height="15.54" fill="#fbe29e"/>
<rect x="647.90" y="497.76" width="16.10" height="15.54" fill="#fff2b8"/>
<rect x="137.60" y="512.30" width="16.30" height="15.54" fill="#d02c0c"/>
<rect x="152.90" y="512.30" width="16.00" height="15.54" fill="#ac0e08"/>
<rect x="167.90" y="512.30" width="16.00" height="15.54" fill="#fff2b8"/>
<rect x="182.90" y="512.30" width="16.00" height="15.54" fill="#fff2b8"/>
<rect x="197.90" y="512.30" width="16.00" height="15.54" fill="#fff2b8"/>
<rect x="212.90" y="512.30" width="16.00" height="15.54" fill="#fff2b8"/>
<rect x="227.90" y="512.30" width="16.00" height="15.54" fill="#fff2b8"/>
<rect x="242.90" y="512.30" width="16.00" height="15.54" fill="#fbe29e"/>
<rect x="257.90" y="512.30" width="16.00" height="15.54" fill="#fbe29e"/>
<rect x="272.90" y="512.30" width="16.00" height="15.54" fill="#fbe29e"/>
<rect x="287.90" y="512.30" width="16.00" height="15.54" fill="#fbe29e"/>
<rect x="302.90" y="512.30" width="16.00" height="15.54" fill="#fbe29e"/>
<rect x="317.90" y="512.30" width="16.00" height="15.54" fill="#fff2b8"/>
<rect x="332.90" y="512.30" width="16.00" height="15.54" fill="#fff2b8"/>
<rect x="347.90" y="512.30" width="16.00" height="15.54" fill="#fbe29e"/>
<rect x="362.90" y="512.30" width="16.00" height="15.54" fill="#fbe29e"/>
<rect x="377.90" y="512.30" width="16.00" height="15.54" fill="#fff2b8"/>
<rect x="392.90" y="512.30" width="16.00" height="15.54" fill="#fff2b8"/>
<rect x="407.90" y="512.30" width="16.00" height="15.54" fill="#fbe29e"/>
<rect x="422.90" y="512.30" width="16.00" height="15.54" fill="#fff2b8"/>
<rect x="437.90" y="512.30" width="16.00" height="15.54" fill="#fff2b8"/>
<rect x="452.90" y="512.30" width="16.00" height="15.54" fill="#f8d286"/>
<rect x="467.90" y="512.30" width="16.00" height="15.54" fill="#fbe29e"/>
<rect x="482.90" y="512.30" width="16.00" height="15.54" fill="#fbe29e"/>
<rect x="497.90" y="512.30" width="16.00" height="15.54" fill="#f8d286"/>
<rect x="512.90" y="512.30" width="16.00" height="15.54" fill="#fff2b8"/>
<rect x="527.90" y="512.30" width="16.00" height="15.54" fill="#fff2b8"/>
<rect x="542.90" y="512.30" width="16.00" height="15.54" fill="#fffbd0"/>
<rect x="557.90" y="512.30" width="16.00" height="15.54" fill="#fffbd0"/>
<rect x="572.90" y="512.30" width="16.00" height="15.54" fill="#fff2b8"/>
<rect x="587.90" y="512.30" width="16.00" height="15.54" fill="#fff2b8"/>
<rect x="602.90" y="512.30" width="16.00" height="15.54" fill="#fffbd0"/>
<rect x="617.90" y="512.30" width="16.00" height="15.54" fill="#fff2b8"/>
<rect x="632.90" y="512.30" width="16.00" height="15.54" fill="#fff2b8"/>
<rect x="647.90" y="512.30" width="16.10" height="15.54" fill="#fff2b8"/>
<rect x="137.60" y="526.84" width="16.30" height="15.54" fill="#fff2b8"/>
<rect x="152.90" y="526.84" width="16.00" height="15.54" fill="#fff2b8"/>
<rect x="167.90" y="526.84" width="16.00" height="15.54" fill="#fff2b8"/>
<rect x="182.90" y="526.84" width="16.00" height="15.54" fill="#f8d286"/>
<rect x="197.90" y="526.84" width="16.00" height="15.54" fill="#fff2b8"/>
<rect x="212.90" y="526.84" width="16.00" height="15.54" fill="#fff2b8"/>
<rect x="227.90" y="526.84" width="16.00" height="15.54" fill="#fff2b8"/>
<rect x="242.90" y="526.84" width="16.00" height="15.54" fill="#fbe29e"/>
<rect x="257.90" y="526.84" width="16.00" height="15.54" fill="#fff2b8"/>
<rect x="272.90" y="526.84" width="16.00" height="15.54" fill="#fff2b8"/>
<rect x="287.90" y="526.84" width="16.00" height="15.54" fill="#fff2b8"/>
<rect x="302.90" y="526.84" width="16.00" height="15.54" fill="#f9da92"/>
<rect x="317.90" y="526.84" width="16.00" height="15.54" fill="#fff2b8"/>
<rect x="332.90" y="526.84" width="16.00" height="15.54" fill="#fff2b8"/>
<rect x="347.90" y="526.84" width="16.00" height="15.54" fill="#fff2b8"/>
<rect x="362.90" y="526.84" width="16.00" height="15.54" fill="#fff2b8"/>
<rect x="377.90" y="526.84" width="16.00" height="15.54" fill="#fbe29e"/>
<rect x="392.90" y="526.84" width="16.00" height="15.54" fill="#fff2b8"/>
<rect x="407.90" y="526.84" width="16.00" height="15.54" fill="#fff2b8"/>
<rect x="422.90" y="526.84" width="16.00" height="15.54" fill="#fff2b8"/>
<rect x="437.90" y="526.84" width="16.00" height="15.54" fill="#fff2b8"/>
<rect x="452.90" y="526.84" width="16.00" height="15.54" fill="#e04008"/>
<rect x="467.90" y="526.84" width="16.00" height="15.54" fill="#ec660a"/>
<rect x="482.90" y="526.84" width="16.00" height="15.54" fill="#e04008"/>
<rect x="497.90" y="526.84" width="16.00" height="15.54" fill="#f6b43e"/>
<rect x="512.90" y="526.84" width="16.00" height="15.54" fill="#f8d286"/>
<rect x="527.90" y="526.84" width="16.00" height="15.54" fill="#f8d286"/>
<rect x="542.90" y="526.84" width="16.00" height="15.54" fill="#fff2b8"/>
<rect x="557.90" y="526.84" width="16.00" height="15.54" fill="#fff2b8"/>
<rect x="572.90" y="526.84" width="16.00" height="15.54" fill="#fff2b8"/>
<rect x="587.90" y="526.84" width="16.00" height="15.54" fill="#fbe29e"/>
<rect x="602.90" y="526.84" width="16.00" height="15.54" fill="#fff2b8"/>
<rect x="617.90" y="526.84" width="16.00" height="15.54" fill="#fff2b8"/>
<rect x="632.90" y="526.84" width="16.00" height="15.54" fill="#fbe29e"/>
<rect x="647.90" y="526.84" width="16.10" height="15.54" fill="#fff2b8"/>
<rect x="137.60" y="541.39" width="16.30" height="15.54" fill="#fff2b8"/>
<rect x="152.90" y="541.39" width="16.00" height="15.54" fill="#f8d286"/>
<rect x="167.90" y="541.39" width="16.00" height="15.54" fill="#fff2b8"/>
<rect x="182.90" y="541.39" width="16.00" height="15.54" fill="#f8d286"/>
<rect x="197.90" y="541.39" width="16.00" height="15.54" fill="#fff2b8"/>
<rect x="212.90" y="541.39" width="16.00" height="15.54" fill="#fff2b8"/>
<rect x="227.90" y="541.39" width="16.00" height="15.54" fill="#fbe29e"/>
<rect x="242.90" y="541.39" width="16.00" height="15.54" fill="#fbe29e"/>
<rect x="257.90" y="541.39" width="16.00" height="15.54" fill="#fff2b8"/>
<rect x="272.90" y="541.39" width="16.00" height="15.54" fill="#fff2b8"/>
<rect x="287.90" y="541.39" width="16.00" height="15.54" fill="#fff2b8"/>
<rect x="302.90" y="541.39" width="16.00" height="15.54" fill="#f9da92"/>
<rect x="317.90" y="541.39" width="16.00" height="15.54" fill="#fff2b8"/>
<rect x="332.90" y="541.39" width="16.00" height="15.54" fill="#fff2b8"/>
<rect x="347.90" y="541.39" width="16.00" height="15.54" fill="#fff2b8"/>
<rect x="362.90" y="541.39" width="16.00" height="15.54" fill="#fbe29e"/>
<rect x="377.90" y="541.39" width="16.00" height="15.54" fill="#f8d286"/>
<rect x="392.90" y="541.39" width="16.00" height="15.54" fill="#fff2b8"/>
<rect x="407.90" y="541.39" width="16.00" height="15.54" fill="#fff2b8"/>
<rect x="422.90" y="541.39" width="16.00" height="15.54" fill="#fbe29e"/>
<rect x="437.90" y="541.39" width="16.00" height="15.54" fill="#fff2b8"/>
<rect x="452.90" y="541.39" width="16.00" height="15.54" fill="#f5a61a"/>
<rect x="467.90" y="541.39" width="16.00" height="15.54" fill="#e04008"/>
<rect x="482.90" y="541.39" width="16.00" height="15.54" fill="#fff2b8"/>
<rect x="497.90" y="541.39" width="16.00" height="15.54" fill="#ee780e"/>
<rect x="512.90" y="541.39" width="16.00" height="15.54" fill="#ee780e"/>
<rect x="527.90" y="541.39" width="16.00" height="15.54" fill="#fff2b8"/>
<rect x="542.90" y="541.39" width="16.00" height="15.54" fill="#fff2b8"/>
<rect x="557.90" y="541.39" width="16.00" height="15.54" fill="#f9da92"/>
<rect x="572.90" y="541.39" width="16.00" height="15.54" fill="#fff2b8"/>
<rect x="587.90" y="541.39" width="16.00" height="15.54" fill="#fbe29e"/>
<rect x="602.90" y="541.39" width="16.00" height="15.54" fill="#fff2b8"/>
<rect x="617.90" y="541.39" width="16.00" height="15.54" fill="#fff2b8"/>
<rect x="632.90" y="541.39" width="16.00" height="15.54" fill="#fbe29e"/>
<rect x="647.90" y="541.39" width="16.10" height="15.54" fill="#fff2b8"/>
<rect x="137.60" y="555.93" width="16.30" height="15.54" fill="#fbe29e"/>
<rect x="152.90" y="555.93" width="16.00" height="15.54" fill="#fbe29e"/>
<rect x="167.90" y="555.93" width="16.00" height="15.54" fill="#fff2b8"/>
<rect x="182.90" y="555.93" width="16.00" height="15.54" fill="#fff2b8"/>
<rect x="197.90" y="555.93" width="16.00" height="15.54" fill="#fbe29e"/>
<rect x="212.90" y="555.93" width="16.00" height="15.54" fill="#fbe29e"/>
<rect x="227.90" y="555.93" width="16.00" height="15.54" fill="#fff2b8"/>
<rect x="242.90" y="555.93" width="16.00" height="15.54" fill="#fbe29e"/>
<rect x="257.90" y="555.93" width="16.00" height="15.54" fill="#fff2b8"/>
<rect x="272.90" y="555.93" width="16.00" height="15.54" fill="#fbe29e"/>
<rect x="287.90" y="555.93" width="16.00" height="15.54" fill="#fff2b8"/>
<rect x="302.90" y="555.93" width="16.00" height="15.54" fill="#fbe29e"/>
<rect x="317.90" y="555.93" width="16.00" height="15.54" fill="#fbe29e"/>
<rect x="332.90" y="555.93" width="16.00" height="15.54" fill="#ec660a"/>
<rect x="347.90" y="555.93" width="16.00" height="15.54" fill="#fff2b8"/>
<rect x="362.90" y="555.93" width="16.00" height="15.54" fill="#fff2b8"/>
<rect x="377.90" y="555.93" width="16.00" height="15.54" fill="#fff2b8"/>
<rect x="392.90" y="555.93" width="16.00" height="15.54" fill="#fff2b8"/>
<rect x="407.90" y="555.93" width="16.00" height="15.54" fill="#fff2b8"/>
<rect x="422.90" y="555.93" width="16.00" height="15.54" fill="#fbe29e"/>
<rect x="437.90" y="555.93" width="16.00" height="15.54" fill="#e04008"/>
<rect x="452.90" y="555.93" width="16.00" height="15.54" fill="#fff2b8"/>
<rect x="467.90" y="555.93" width="16.00" height="15.54" fill="#fff2b8"/>
<rect x="482.90" y="555.93" width="16.00" height="15.54" fill="#f8d286"/>
<rect x="497.90" y="555.93" width="16.00" height="15.54" fill="#e04008"/>
<rect x="512.90" y="555.93" width="16.00" height="15.54" fill="#fff2b8"/>
<rect x="527.90" y="555.93" width="16.00" height="15.54" fill="#fff2b8"/>
<rect x="542.90" y="555.93" width="16.00" height="15.54" fill="#fff2b8"/>
<rect x="557.90" y="555.93" width="16.00" height="15.54" fill="#fff2b8"/>
<rect x="572.90" y="555.93" width="16.00" height="15.54" fill="#fff2b8"/>
<rect x="587.90" y="555.93" width="16.00" height="15.54" fill="#fff2b8"/>
<rect x="602.90" y="555.93" width="16.00" height="15.54" fill="#fbe29e"/>
<rect x="617.90" y="555.93" width="16.00" height="15.54" fill="#fbe29e"/>
<rect x="632.90" y="555.93" width="16.00" height="15.54" fill="#fff2b8"/>
<rect x="647.90" y="555.93" width="16.10" height="15.54" fill="#fff2b8"/>
<rect x="137.60" y="570.48" width="16.30" height="15.54" fill="#fff2b8"/>
<rect x="152.90" y="570.48" width="16.00" height="15.54" fill="#fff2b8"/>
<rect x="167.90" y="570.48" width="16.00" height="15.54" fill="#fff2b8"/>
<rect x="182.90" y="570.48" width="16.00" height="15.54" fill="#fbe29e"/>
<rect x="197.90" y="570.48" width="16.00" height="15.54" fill="#fff2b8"/>
<rect x="212.90" y="570.48" width="16.00" height="15.54" fill="#fff2b8"/>
<rect x="227.90" y="570.48" width="16.00" height="15.54" fill="#fbe29e"/>
<rect x="242.90" y="570.48" width="16.00" height="15.54" fill="#fbe29e"/>
<rect x="257.90" y="570.48" width="16.00" height="15.54" fill="#f08b12"/>
<rect x="272.90" y="570.48" width="16.00" height="15.54" fill="#fff2b8"/>
<rect x="287.90" y="570.48" width="16.00" height="15.54" fill="#f5a61a"/>
<rect x="302.90" y="570.48" width="16.00" height="15.54" fill="#f6b43e"/>
<rect x="317.90" y="570.48" width="16.00" height="15.54" fill="#fff2b8"/>
<rect x="332.90" y="570.48" width="16.00" height="15.54" fill="#f5a61a"/>
<rect x="347.90" y="570.48" width="16.00" height="15.54" fill="#fff2b8"/>
<rect x="362.90" y="570.48" width="16.00" height="15.54" fill="#fbe29e"/>
<rect x="377.90" y="570.48" width="16.00" height="15.54" fill="#fff2b8"/>
<rect x="392.90" y="570.48" width="16.00" height="15.54" fill="#fff2b8"/>
<rect x="407.90" y="570.48" width="16.00" height="15.54" fill="#fff2b8"/>
<rect x="422.90" y="570.48" width="16.00" height="15.54" fill="#fbe29e"/>
<rect x="437.90" y="570.48" width="16.00" height="15.54" fill="#fbe29e"/>
<rect x="452.90" y="570.48" width="16.00" height="15.54" fill="#f6b43e"/>
<rect x="467.90" y="570.48" width="16.00" height="15.54" fill="#ee780e"/>
<rect x="482.90" y="570.48" width="16.00" height="15.54" fill="#fff2b8"/>
<rect x="497.90" y="570.48" width="16.00" height="15.54" fill="#fff2b8"/>
<rect x="512.90" y="570.48" width="16.00" height="15.54" fill="#fbe29e"/>
<rect x="527.90" y="570.48" width="16.00" height="15.54" fill="#fffbd0"/>
<rect x="542.90" y="570.48" width="16.00" height="15.54" fill="#fffbd0"/>
<rect x="557.90" y="570.48" width="16.00" height="15.54" fill="#fbe29e"/>
<rect x="572.90" y="570.48" width="16.00" height="15.54" fill="#fff2b8"/>
<rect x="587.90" y="570.48" width="16.00" height="15.54" fill="#fff2b8"/>
<rect x="602.90" y="570.48" width="16.00" height="15.54" fill="#fff2b8"/>
<rect x="617.90" y="570.48" width="16.00" height="15.54" fill="#fff2b8"/>
<rect x="632.90" y="570.48" width="16.00" height="15.54" fill="#fff2b8"/>
<rect x="647.90" y="570.48" width="16.10" height="15.54" fill="#fff2b8"/>
<rect x="137.60" y="585.02" width="16.30" height="15.54" fill="#fbe29e"/>
<rect x="152.90" y="585.02" width="16.00" height="15.54" fill="#fff2b8"/>
<rect x="167.90" y="585.02" width="16.00" height="15.54" fill="#fbe29e"/>
<rect x="182.90" y="585.02" width="16.00" height="15.54" fill="#ec660a"/>
<rect x="197.90" y="585.02" width="16.00" height="15.54" fill="#fff2b8"/>
<rect x="212.90" y="585.02" width="16.00" height="15.54" fill="#fff2b8"/>
<rect x="227.90" y="585.02" width="16.00" height="15.54" fill="#fff2b8"/>
<rect x="242.90" y="585.02" width="16.00" height="15.54" fill="#fbe29e"/>
<rect x="257.90" y="585.02" width="16.00" height="15.54" fill="#fff2b8"/>
<rect x="272.90" y="585.02" width="16.00" height="15.54" fill="#fff2b8"/>
<rect x="287.90" y="585.02" width="16.00" height="15.54" fill="#fff2b8"/>
<rect x="302.90" y="585.02" width="16.00" height="15.54" fill="#fbe29e"/>
<rect x="317.90" y="585.02" width="16.00" height="15.54" fill="#f8d286"/>
<rect x="332.90" y="585.02" width="16.00" height="15.54" fill="#f5a61a"/>
<rect x="347.90" y="585.02" width="16.00" height="15.54" fill="#fbe29e"/>
<rect x="362.90" y="585.02" width="16.00" height="15.54" fill="#fbe29e"/>
<rect x="377.90" y="585.02" width="16.00" height="15.54" fill="#f6b43e"/>
<rect x="392.90" y="585.02" width="16.00" height="15.54" fill="#fff2b8"/>
<rect x="407.90" y="585.02" width="16.00" height="15.54" fill="#fff2b8"/>
<rect x="422.90" y="585.02" width="16.00" height="15.54" fill="#fff2b8"/>
<rect x="437.90" y="585.02" width="16.00" height="15.54" fill="#fbe29e"/>
<rect x="452.90" y="585.02" width="16.00" height="15.54" fill="#fff2b8"/>
<rect x="467.90" y="585.02" width="16.00" height="15.54" fill="#f8d286"/>
<rect x="482.90" y="585.02" width="16.00" height="15.54" fill="#fff2b8"/>
<rect x="497.90" y="585.02" width="16.00" height="15.54" fill="#fff2b8"/>
<rect x="512.90" y="585.02" width="16.00" height="15.54" fill="#fff2b8"/>
<rect x="527.90" y="585.02" width="16.00" height="15.54" fill="#fffbd0"/>
<rect x="542.90" y="585.02" width="16.00" height="15.54" fill="#fffbd0"/>
<rect x="557.90" y="585.02" width="16.00" height="15.54" fill="#fff2b8"/>
<rect x="572.90" y="585.02" width="16.00" height="15.54" fill="#fff2b8"/>
<rect x="587.90" y="585.02" width="16.00" height="15.54" fill="#fff2b8"/>
<rect x="602.90" y="585.02" width="16.00" height="15.54" fill="#fff2b8"/>
<rect x="617.90" y="585.02" width="16.00" height="15.54" fill="#fff2b8"/>
<rect x="632.90" y="585.02" width="16.00" height="15.54" fill="#fff2b8"/>
<rect x="647.90" y="585.02" width="16.10" height="15.54" fill="#fff2b8"/>
<rect x="137.60" y="599.56" width="16.30" height="15.54" fill="#f9da92"/>
<rect x="152.90" y="599.56" width="16.00" height="15.54" fill="#f9da92"/>
<rect x="167.90" y="599.56" width="16.00" height="15.54" fill="#f9da92"/>
<rect x="182.90" y="599.56" width="16.00" height="15.54" fill="#f9da92"/>
<rect x="197.90" y="599.56" width="16.00" height="15.54" fill="#fff2b8"/>
<rect x="212.90" y="599.56" width="16.00" height="15.54" fill="#fbe29e"/>
<rect x="227.90" y="599.56" width="16.00" height="15.54" fill="#fbe29e"/>
<rect x="242.90" y="599.56" width="16.00" height="15.54" fill="#fbe29e"/>
<rect x="257.90" y="599.56" width="16.00" height="15.54" fill="#fff2b8"/>
<rect x="272.90" y="599.56" width="16.00" height="15.54" fill="#f6b43e"/>
<rect x="287.90" y="599.56" width="16.00" height="15.54" fill="#fff2b8"/>
<rect x="302.90" y="599.56" width="16.00" height="15.54" fill="#fff2b8"/>
<rect x="317.90" y="599.56" width="16.00" height="15.54" fill="#fbe29e"/>
<rect x="332.90" y="599.56" width="16.00" height="15.54" fill="#fff2b8"/>
<rect x="347.90" y="599.56" width="16.00" height="15.54" fill="#fbe29e"/>
<rect x="362.90" y="599.56" width="16.00" height="15.54" fill="#fff2b8"/>
<rect x="377.90" y="599.56" width="16.00" height="15.54" fill="#fff2b8"/>
<rect x="392.90" y="599.56" width="16.00" height="15.54" fill="#fff2b8"/>
<rect x="407.90" y="599.56" width="16.00" height="15.54" fill="#f5a61a"/>
<rect x="422.90" y="599.56" width="16.00" height="15.54" fill="#fff2b8"/>
<rect x="437.90" y="599.56" width="16.00" height="15.54" fill="#f6b43e"/>
<rect x="452.90" y="599.56" width="16.00" height="15.54" fill="#fff2b8"/>
<rect x="467.90" y="599.56" width="16.00" height="15.54" fill="#fff2b8"/>
<rect x="482.90" y="599.56" width="16.00" height="15.54" fill="#fff2b8"/>
<rect x="497.90" y="599.56" width="16.00" height="15.54" fill="#fff2b8"/>
<rect x="512.90" y="599.56" width="16.00" height="15.54" fill="#fff2b8"/>
<rect x="527.90" y="599.56" width="16.00" height="15.54" fill="#fbe29e"/>
<rect x="542.90" y="599.56" width="16.00" height="15.54" fill="#fff2b8"/>
<rect x="557.90" y="599.56" width="16.00" height="15.54" fill="#fbe29e"/>
<rect x="572.90" y="599.56" width="16.00" height="15.54" fill="#fff2b8"/>
<rect x="587.90" y="599.56" width="16.00" height="15.54" fill="#fff2b8"/>
<rect x="602.90" y="599.56" width="16.00" height="15.54" fill="#fff2b8"/>
<rect x="617.90" y="599.56" width="16.00" height="15.54" fill="#fff2b8"/>
<rect x="632.90" y="599.56" width="16.00" height="15.54" fill="#fbe29e"/>
<rect x="647.90" y="599.56" width="16.10" height="15.54" fill="#fff2b8"/>
<rect x="137.60" y="614.11" width="16.30" height="15.54" fill="#fbe29e"/>
<rect x="152.90" y="614.11" width="16.00" height="15.54" fill="#f6b43e"/>
<rect x="167.90" y="614.11" width="16.00" height="15.54" fill="#fbe29e"/>
<rect x="182.90" y="614.11" width="16.00" height="15.54" fill="#f08b12"/>
<rect x="197.90" y="614.11" width="16.00" height="15.54" fill="#fff2b8"/>
<rect x="212.90" y="614.11" width="16.00" height="15.54" fill="#fff2b8"/>
<rect x="227.90" y="614.11" width="16.00" height="15.54" fill="#fff2b8"/>
<rect x="242.90" y="614.11" width="16.00" height="15.54" fill="#fbe29e"/>
<rect x="257.90" y="614.11" width="16.00" height="15.54" fill="#fff2b8"/>
<rect x="272.90" y="614.11" width="16.00" height="15.54" fill="#fbe29e"/>
<rect x="287.90" y="614.11" width="16.00" height="15.54" fill="#fff2b8"/>
<rect x="302.90" y="614.11" width="16.00" height="15.54" fill="#fbe29e"/>
<rect x="317.90" y="614.11" width="16.00" height="15.54" fill="#fff2b8"/>
<rect x="332.90" y="614.11" width="16.00" height="15.54" fill="#fff2b8"/>
<rect x="347.90" y="614.11" width="16.00" height="15.54" fill="#fbe29e"/>
<rect x="362.90" y="614.11" width="16.00" height="15.54" fill="#fff2b8"/>
<rect x="377.90" y="614.11" width="16.00" height="15.54" fill="#fff2b8"/>
<rect x="392.90" y="614.11" width="16.00" height="15.54" fill="#fff2b8"/>
<rect x="407.90" y="614.11" width="16.00" height="15.54" fill="#fff2b8"/>
<rect x="422.90" y="614.11" width="16.00" height="15.54" fill="#fbe29e"/>
<rect x="437.90" y="614.11" width="16.00" height="15.54" fill="#fbe29e"/>
<rect x="452.90" y="614.11" width="16.00" height="15.54" fill="#fff2b8"/>
<rect x="467.90" y="614.11" width="16.00" height="15.54" fill="#fbe29e"/>
<rect x="482.90" y="614.11" width="16.00" height="15.54" fill="#fff2b8"/>
<rect x="497.90" y="614.11" width="16.00" height="15.54" fill="#fff2b8"/>
<rect x="512.90" y="614.11" width="16.00" height="15.54" fill="#fff2b8"/>
<rect x="527.90" y="614.11" width="16.00" height="15.54" fill="#fff2b8"/>
<rect x="542.90" y="614.11" width="16.00" height="15.54" fill="#fff2b8"/>
<rect x="557.90" y="614.11" width="16.00" height="15.54" fill="#fff2b8"/>
<rect x="572.90" y="614.11" width="16.00" height="15.54" fill="#fff2b8"/>
<rect x="587.90" y="614.11" width="16.00" height="15.54" fill="#f8d286"/>
<rect x="602.90" y="614.11" width="16.00" height="15.54" fill="#fff2b8"/>
<rect x="617.90" y="614.11" width="16.00" height="15.54" fill="#fff2b8"/>
<rect x="632.90" y="614.11" width="16.00" height="15.54" fill="#fff2b8"/>
<rect x="647.90" y="614.11" width="16.10" height="15.54" fill="#fff2b8"/>
<rect x="137.60" y="628.65" width="16.30" height="14.55" fill="#fbe29e"/>
<rect x="152.90" y="628.65" width="16.00" height="14.55" fill="#fbe29e"/>
<rect x="167.90" y="628.65" width="16.00" height="14.55" fill="#fff2b8"/>
<rect x="182.90" y="628.65" width="16.00" height="14.55" fill="#fbe29e"/>
<rect x="197.90" y="628.65" width="16.00" height="14.55" fill="#fff2b8"/>
<rect x="212.90" y="628.65" width="16.00" height="14.55" fill="#fbe29e"/>
<rect x="227.90" y="628.65" width="16.00" height="14.55" fill="#fbe29e"/>
<rect x="242.90" y="628.65" width="16.00" height="14.55" fill="#fbe29e"/>
<rect x="257.90" y="628.65" width="16.00" height="14.55" fill="#fff2b8"/>
<rect x="272.90" y="628.65" width="16.00" height="14.55" fill="#fbe29e"/>
<rect x="287.90" y="628.65" width="16.00" height="14.55" fill="#fff2b8"/>
<rect x="302.90" y="628.65" width="16.00" height="14.55" fill="#fbe29e"/>
<rect x="317.90" y="628.65" width="16.00" height="14.55" fill="#fbe29e"/>
<rect x="332.90" y="628.65" width="16.00" height="14.55" fill="#fff2b8"/>
<rect x="347.90" y="628.65" width="16.00" height="14.55" fill="#fff2b8"/>
<rect x="362.90" y="628.65" width="16.00" height="14.55" fill="#fbe29e"/>
<rect x="377.90" y="628.65" width="16.00" height="14.55" fill="#fff2b8"/>
<rect x="392.90" y="628.65" width="16.00" height="14.55" fill="#fbe29e"/>
<rect x="407.90" y="628.65" width="16.00" height="14.55" fill="#fbe29e"/>
<rect x="422.90" y="628.65" width="16.00" height="14.55" fill="#f8d286"/>
<rect x="437.90" y="628.65" width="16.00" height="14.55" fill="#fbe29e"/>
<rect x="452.90" y="628.65" width="16.00" height="14.55" fill="#fbe29e"/>
<rect x="467.90" y="628.65" width="16.00" height="14.55" fill="#fbe29e"/>
<rect x="482.90" y="628.65" width="16.00" height="14.55" fill="#fbe29e"/>
<rect x="497.90" y="628.65" width="16.00" height="14.55" fill="#fbe29e"/>
<rect x="512.90" y="628.65" width="16.00" height="14.55" fill="#fff2b8"/>
<rect x="527.90" y="628.65" width="16.00" height="14.55" fill="#fffbd0"/>
<rect x="542.90" y="628.65" width="16.00" height="14.55" fill="#fff2b8"/>
<rect x="557.90" y="628.65" width="16.00" height="14.55" fill="#fff2b8"/>
<rect x="572.90" y="628.65" width="16.00" height="14.55" fill="#fff2b8"/>
<rect x="587.90" y="628.65" width="16.00" height="14.55" fill="#fbe29e"/>
<rect x="602.90" y="628.65" width="16.00" height="14.55" fill="#fff2b8"/>
<rect x="617.90" y="628.65" width="16.00" height="14.55" fill="#fff2b8"/>
<rect x="632.90" y="628.65" width="16.00" height="14.55" fill="#fff2b8"/>
<rect x="647.90" y="628.65" width="16.10" height="14.55" fill="#fff2b8"/>
</g>
<path d="M146.5 128.5L146.5 78.5M161.5 128.5L161.5 78.5M146.5 78.5L161.5 78.5M176.5 128.5L176.5 48.5M191.5 128.5L191.5 48.5M176.5 48.5L191.5 48.5M153.5 78.5L153.5 37.5M183.5 48.5L183.5 37.5M153.5 37.5L183.5 37.5M206.5 128.5L206.5 55.5M221.5 128.5L221.5 55.5M206.5 55.5L221.5 55.5M168.5 37.5L168.5 27.5M213.5 55.5L213.5 27.5M168.5 27.5L213.5 27.5M236.5 128.5L236.5 95.5M251.5 128.5L251.5 95.5M236.5 95.5L251.5 95.5M266.5 128.5L266.5 69.5M281.5 128.5L281.5 69.5M266.5 69.5L281.5 69.5M243.5 95.5L243.5 27.5M273.5 69.5L273.5 27.5M243.5 27.5L273.5 27.5M191.5 27.5L191.5 24.5M258.5 27.5L258.5 24.5M191.5 24.5L258.5 24.5M296.5 128.5L296.5 67.5M311.5 128.5L311.5 67.5M296.5 67.5L311.5 67.5M303.5 67.5L303.5 62.5M326.5 128.5L326.5 62.5M303.5 62.5L326.5 62.5M314.5 62.5L314.5 37.5M341.5 128.5L341.5 37.5M314.5 37.5L341.5 37.5M224.5 24.5L224.5 20.5M327.5 37.5L327.5 20.5M224.5 20.5L327.5 20.5M356.5 128.5L356.5 108.5M371.5 128.5L371.5 108.5M356.5 108.5L371.5 108.5M363.5 108.5L363.5 94.5M386.5 128.5L386.5 94.5M363.5 94.5L386.5 94.5M374.5 94.5L374.5 38.5M401.5 128.5L401.5 38.5M374.5 38.5L401.5 38.5M416.5 128.5L416.5 65.5M431.5 128.5L431.5 65.5M416.5 65.5L431.5 65.5M423.5 65.5L423.5 56.5M446.5 128.5L446.5 56.5M423.5 56.5L446.5 56.5M387.5 38.5L387.5 24.5M434.5 56.5L434.5 24.5M387.5 24.5L434.5 24.5M461.5 128.5L461.5 83.5M476.5 128.5L476.5 83.5M461.5 83.5L476.5 83.5M468.5 83.5L468.5 49.5M491.5 128.5L491.5 49.5M468.5 49.5L491.5 49.5M506.5 128.5L506.5 58.5M521.5 128.5L521.5 58.5M506.5 58.5L521.5 58.5M479.5 49.5L479.5 37.5M513.5 58.5L513.5 37.5M479.5 37.5L513.5 37.5M411.5 24.5L411.5 22.5M496.5 37.5L496.5 22.5M411.5 22.5L496.5 22.5M276.5 20.5L276.5 17.5M454.5 22.5L454.5 17.5M276.5 17.5L454.5 17.5M365.5 17.5L365.5 2.5M365.5 2.5L486.5 2.5" stroke="#2b2b9c" stroke-width="1.1" fill="none" stroke-linecap="square"/>
<path d="M536.5 128.5L536.5 86.5M551.5 128.5L551.5 86.5M536.5 86.5L551.5 86.5M543.5 86.5L543.5 63.5M566.5 128.5L566.5 63.5M543.5 63.5L566.5 63.5M581.5 128.5L581.5 69.5M596.5 128.5L596.5 69.5M581.5 69.5L596.5 69.5M554.5 63.5L554.5 54.5M588.5 69.5L588.5 54.5M554.5 54.5L588.5 54.5M611.5 128.5L611.5 92.5M626.5 128.5L626.5 92.5M611.5 92.5L626.5 92.5M618.5 92.5L618.5 61.5M641.5 128.5L641.5 61.5M618.5 61.5L641.5 61.5M629.5 61.5L629.5 53.5M656.5 128.5L656.5 53.5M629.5 53.5L656.5 53.5M571.5 54.5L571.5 34.5M642.5 53.5L642.5 34.5M571.5 34.5L642.5 34.5M607.5 34.5L607.5 2.5M486.5 2.5L607.5 2.5" stroke="#e3a33a" stroke-width="1.1" fill="none" stroke-linecap="square"/>
<path d="M133.5 155.5L82.5 155.5M133.5 170.5L82.5 170.5M82.5 155.5L82.5 170.5M133.5 199.5L75.5 199.5M133.5 213.5L75.5 213.5M75.5 199.5L75.5 213.5M133.5 184.5L61.5 184.5M75.5 206.5L61.5 206.5M61.5 184.5L61.5 206.5M82.5 162.5L41.5 162.5M61.5 195.5L41.5 195.5M41.5 162.5L41.5 195.5M133.5 271.5L112.5 271.5M133.5 286.5L112.5 286.5M112.5 271.5L112.5 286.5M133.5 257.5L105.5 257.5M112.5 279.5L105.5 279.5M105.5 257.5L105.5 279.5M133.5 315.5L113.5 315.5M133.5 330.5L113.5 330.5M113.5 315.5L113.5 330.5M133.5 301.5L99.5 301.5M113.5 322.5L99.5 322.5M99.5 301.5L99.5 322.5M133.5 344.5L104.5 344.5M133.5 359.5L104.5 359.5M104.5 344.5L104.5 359.5M133.5 373.5L111.5 373.5M133.5 388.5L111.5 388.5M111.5 373.5L111.5 388.5M104.5 351.5L94.5 351.5M111.5 381.5L94.5 381.5M94.5 351.5L94.5 381.5M99.5 311.5L89.5 311.5M94.5 366.5L89.5 366.5M89.5 311.5L89.5 366.5M105.5 268.5L83.5 268.5M89.5 339.5L83.5 339.5M83.5 268.5L83.5 339.5M133.5 242.5L78.5 242.5M83.5 303.5L78.5 303.5M78.5 242.5L78.5 303.5M133.5 228.5L61.5 228.5M78.5 273.5L61.5 273.5M61.5 228.5L61.5 273.5M41.5 179.5L26.5 179.5M61.5 250.5L26.5 250.5M26.5 179.5L26.5 250.5M26.5 214.5L22.5 214.5M22.5 214.5L22.5 322.5" stroke="#3c89b6" stroke-width="1.1" fill="none" stroke-linecap="square"/>
<path d="M133.5 431.5L75.5 431.5M133.5 446.5L75.5 446.5M75.5 431.5L75.5 446.5M133.5 461.5L74.5 461.5M133.5 475.5L74.5 475.5M74.5 461.5L74.5 475.5M133.5 490.5L92.5 490.5M133.5 504.5L92.5 504.5M92.5 490.5L92.5 504.5M74.5 468.5L61.5 468.5M92.5 497.5L61.5 497.5M61.5 468.5L61.5 497.5M75.5 439.5L51.5 439.5M61.5 482.5L51.5 482.5M51.5 439.5L51.5 482.5M133.5 533.5L80.5 533.5M133.5 548.5L80.5 548.5M80.5 533.5L80.5 548.5M133.5 621.5L106.5 621.5M133.5 635.5L106.5 635.5M106.5 621.5L106.5 635.5M133.5 606.5L96.5 606.5M106.5 628.5L96.5 628.5M96.5 606.5L96.5 628.5M133.5 591.5L81.5 591.5M96.5 617.5L81.5 617.5M81.5 591.5L81.5 617.5M133.5 577.5L70.5 577.5M81.5 604.5L70.5 604.5M70.5 577.5L70.5 604.5M133.5 562.5L59.5 562.5M70.5 591.5L59.5 591.5M59.5 562.5L59.5 591.5M80.5 541.5L49.5 541.5M59.5 576.5L49.5 576.5M49.5 541.5L49.5 576.5M133.5 519.5L44.5 519.5M49.5 558.5L44.5 558.5M44.5 519.5L44.5 558.5M51.5 461.5L39.5 461.5M44.5 539.5L39.5 539.5M39.5 461.5L39.5 539.5M133.5 417.5L32.5 417.5M39.5 500.5L32.5 500.5M32.5 417.5L32.5 500.5M133.5 402.5L26.5 402.5M32.5 458.5L26.5 458.5M26.5 402.5L26.5 458.5M26.5 430.5L22.5 430.5M22.5 322.5L22.5 430.5" stroke="#448634" stroke-width="1.1" fill="none" stroke-linecap="square"/>
<path d="M133.5 141.5L3.5 141.5M3.5 141.5L3.5 231.5" stroke="#a8607f" stroke-width="1.1" fill="none" stroke-linecap="square"/>
<path d="M3.5 231.5L3.5 322.5M3.5 322.5L22.5 322.5" stroke="#1a1a1a" stroke-width="1.1" fill="none" stroke-linecap="square"/>
<text x="667.6" y="143.2" font-size="5.4" fill="#111" stroke="#111" stroke-width="0.15">10</text>
<text x="667.6" y="157.7" font-size="5.4" fill="#111" stroke="#111" stroke-width="0.15">18</text>
<text x="667.6" y="172.3" font-size="5.4" fill="#111" stroke="#111" stroke-width="0.15">8</text>
<text x="667.6" y="186.8" font-size="5.4" fill="#111" stroke="#111" stroke-width="0.15">7</text>
<text x="667.6" y="201.4" font-size="5.4" fill="#111" stroke="#111" stroke-width="0.15">22</text>
<text x="667.6" y="215.9" font-size="5.4" fill="#111" stroke="#111" stroke-width="0.15">19</text>
<text x="667.6" y="230.5" font-size="5.4" fill="#111" stroke="#111" stroke-width="0.15">31</text>
<text x="667.6" y="245.0" font-size="5.4" fill="#111" stroke="#111" stroke-width="0.15">28</text>
<text x="667.6" y="259.6" font-size="5.4" fill="#111" stroke="#111" stroke-width="0.15">29</text>
<text x="667.6" y="274.1" font-size="5.4" fill="#111" stroke="#111" stroke-width="0.15">32</text>
<text x="667.6" y="288.7" font-size="5.4" fill="#111" stroke="#111" stroke-width="0.15">27</text>
<text x="667.6" y="303.2" font-size="5.4" fill="#111" stroke="#111" stroke-width="0.15">35</text>
<text x="667.6" y="317.8" font-size="5.4" fill="#111" stroke="#111" stroke-width="0.15">30</text>
<text x="667.6" y="332.3" font-size="5.4" fill="#111" stroke="#111" stroke-width="0.15">25</text>
<text x="667.6" y="346.8" font-size="5.4" fill="#111" stroke="#111" stroke-width="0.15">33</text>
<text x="667.6" y="361.4" font-size="5.4" fill="#111" stroke="#111" stroke-width="0.15">24</text>
<text x="667.6" y="375.9" font-size="5.4" fill="#111" stroke="#111" stroke-width="0.15">34</text>
<text x="667.6" y="390.5" font-size="5.4" fill="#111" stroke="#111" stroke-width="0.15">26</text>
<text x="667.6" y="405.0" font-size="5.4" fill="#111" stroke="#111" stroke-width="0.15">11</text>
<text x="667.6" y="419.6" font-size="5.4" fill="#111" stroke="#111" stroke-width="0.15">9</text>
<text x="667.6" y="434.1" font-size="5.4" fill="#111" stroke="#111" stroke-width="0.15">17</text>
<text x="667.6" y="448.7" font-size="5.4" fill="#111" stroke="#111" stroke-width="0.15">6</text>
<text x="667.6" y="463.2" font-size="5.4" fill="#111" stroke="#111" stroke-width="0.15">12</text>
<text x="667.6" y="477.8" font-size="5.4" fill="#111" stroke="#111" stroke-width="0.15">2</text>
<text x="667.6" y="492.3" font-size="5.4" fill="#111" stroke="#111" stroke-width="0.15">14</text>
<text x="667.6" y="506.8" font-size="5.4" fill="#111" stroke="#111" stroke-width="0.15">1</text>
<text x="667.6" y="521.4" font-size="5.4" fill="#111" stroke="#111" stroke-width="0.15">20</text>
<text x="667.6" y="535.9" font-size="5.4" fill="#111" stroke="#111" stroke-width="0.15">23</text>
<text x="667.6" y="550.5" font-size="5.4" fill="#111" stroke="#111" stroke-width="0.15">13</text>
<text x="667.6" y="565.0" font-size="5.4" fill="#111" stroke="#111" stroke-width="0.15">21</text>
<text x="667.6" y="579.6" font-size="5.4" fill="#111" stroke="#111" stroke-width="0.15">16</text>
<text x="667.6" y="594.1" font-size="5.4" fill="#111" stroke="#111" stroke-width="0.15">3</text>
<text x="667.6" y="608.7" font-size="5.4" fill="#111" stroke="#111" stroke-width="0.15">5</text>
<text x="667.6" y="623.2" font-size="5.4" fill="#111" stroke="#111" stroke-width="0.15">15</text>
<text x="667.6" y="637.8" font-size="5.4" fill="#111" stroke="#111" stroke-width="0.15">4</text>
<text transform="translate(148.1 647.4) rotate(-90)" text-anchor="end" font-size="5.2" fill="#000" stroke="#000" stroke-width="0.2">KCNC3|3766</text>
<text transform="translate(163.1 647.4) rotate(-90)" text-anchor="end" font-size="5.2" fill="#000" stroke="#000" stroke-width="0.2">SYTN1|4681</text>
<text transform="translate(178.1 647.4) rotate(-90)" text-anchor="end" font-size="5.2" fill="#000" stroke="#000" stroke-width="0.2">ABCA4|24</text>
<text transform="translate(193.1 647.4) rotate(-90)" text-anchor="end" font-size="5.2" fill="#000" stroke="#000" stroke-width="0.2">KCNN4|3785</text>
<text transform="translate(208.1 647.4) rotate(-90)" text-anchor="end" font-size="5.2" fill="#000" stroke="#000" stroke-width="0.2">ENPP3|5169</text>
<text transform="translate(223.1 647.4) rotate(-90)" text-anchor="end" font-size="5.2" fill="#000" stroke="#000" stroke-width="0.2">SYT12|12783</text>
<text transform="translate(238.1 647.4) rotate(-90)" text-anchor="end" font-size="5.2" fill="#000" stroke="#000" stroke-width="0.2">FOXE1|27833</text>
<text transform="translate(253.1 647.4) rotate(-90)" text-anchor="end" font-size="5.2" fill="#000" stroke="#000" stroke-width="0.2">TJ|692</text>
<text transform="translate(268.1 647.4) rotate(-90)" text-anchor="end" font-size="5.2" fill="#000" stroke="#000" stroke-width="0.2">KCNC2|3785</text>
<text transform="translate(283.1 647.4) rotate(-90)" text-anchor="end" font-size="5.2" fill="#000" stroke="#000" stroke-width="0.2">SYT1|8900</text>
<text transform="translate(298.1 647.4) rotate(-90)" text-anchor="end" font-size="5.2" fill="#000" stroke="#000" stroke-width="0.2">Kcnj11|170355</text>
<text transform="translate(313.1 647.4) rotate(-90)" text-anchor="end" font-size="5.2" fill="#000" stroke="#000" stroke-width="0.2">FHEDB|948481</text>
<text transform="translate(328.1 647.4) rotate(-90)" text-anchor="end" font-size="5.2" fill="#000" stroke="#000" stroke-width="0.2">FOXE1|2304</text>
<text transform="translate(343.1 647.4) rotate(-90)" text-anchor="end" font-size="5.2" fill="#000" stroke="#000" stroke-width="0.2">SYT9|8881</text>
<text transform="translate(358.1 647.4) rotate(-90)" text-anchor="end" font-size="5.2" fill="#000" stroke="#000" stroke-width="0.2">FOXD3|27022</text>
<text transform="translate(373.1 647.4) rotate(-90)" text-anchor="end" font-size="5.2" fill="#000" stroke="#000" stroke-width="0.2">FOXE3|2301</text>
<text transform="translate(388.1 647.4) rotate(-90)" text-anchor="end" font-size="5.2" fill="#000" stroke="#000" stroke-width="0.2">FOXD1|2297</text>
<text transform="translate(403.1 647.4) rotate(-90)" text-anchor="end" font-size="5.2" fill="#000" stroke="#000" stroke-width="0.2">FTJ|955</text>
<text transform="translate(418.1 647.4) rotate(-90)" text-anchor="end" font-size="5.2" fill="#000" stroke="#000" stroke-width="0.2">ENOX|877</text>
<text transform="translate(433.1 647.4) rotate(-90)" text-anchor="end" font-size="5.2" fill="#000" stroke="#000" stroke-width="0.2">HOXC4|3221</text>
<text transform="translate(448.1 647.4) rotate(-90)" text-anchor="end" font-size="5.2" fill="#000" stroke="#000" stroke-width="0.2">FOXDL1|2367</text>
<text transform="translate(463.1 647.4) rotate(-90)" text-anchor="end" font-size="5.2" fill="#000" stroke="#000" stroke-width="0.2">ENTPD3|954</text>
<text transform="translate(478.1 647.4) rotate(-90)" text-anchor="end" font-size="5.2" fill="#000" stroke="#000" stroke-width="0.2">FA2H|7952</text>
<text transform="translate(493.1 647.4) rotate(-90)" text-anchor="end" font-size="5.2" fill="#000" stroke="#000" stroke-width="0.2">Hoxfl1|15756</text>
<text transform="translate(508.1 647.4) rotate(-90)" text-anchor="end" font-size="5.2" fill="#000" stroke="#000" stroke-width="0.2">HoxED3|4102</text>
<text transform="translate(523.0 647.4) rotate(-90)" text-anchor="end" font-size="5.2" fill="#000" stroke="#000" stroke-width="0.2">HOXC9|3222</text>
<text transform="translate(538.0 647.4) rotate(-90)" text-anchor="end" font-size="5.2" fill="#000" stroke="#000" stroke-width="0.2">ABCA|21</text>
<text transform="translate(553.0 647.4) rotate(-90)" text-anchor="end" font-size="5.2" fill="#000" stroke="#000" stroke-width="0.2">ATP2A1|5459</text>
<text transform="translate(568.0 647.4) rotate(-90)" text-anchor="end" font-size="5.2" fill="#000" stroke="#000" stroke-width="0.2">FABP4|1171</text>
<text transform="translate(583.0 647.4) rotate(-90)" text-anchor="end" font-size="5.2" fill="#000" stroke="#000" stroke-width="0.2">FABP4|2367</text>
<text transform="translate(598.0 647.4) rotate(-90)" text-anchor="end" font-size="5.2" fill="#000" stroke="#000" stroke-width="0.2">MPH|6302</text>
<text transform="translate(613.0 647.4) rotate(-90)" text-anchor="end" font-size="5.2" fill="#000" stroke="#000" stroke-width="0.2">ABCA6|23460</text>
<text transform="translate(628.0 647.4) rotate(-90)" text-anchor="end" font-size="5.2" fill="#000" stroke="#000" stroke-width="0.2">ABCA6|1601</text>
<text transform="translate(643.0 647.4) rotate(-90)" text-anchor="end" font-size="5.2" fill="#000" stroke="#000" stroke-width="0.2">FBJ|67</text>
<text transform="translate(658.0 647.4) rotate(-90)" text-anchor="end" font-size="5.2" fill="#000" stroke="#000" stroke-width="0.2">HoxFBC|3694</text>
<line x1="119" y1="681.5" x2="685" y2="681.5" stroke="#c8c8c8" stroke-width="1"/>
</svg></body></html>
